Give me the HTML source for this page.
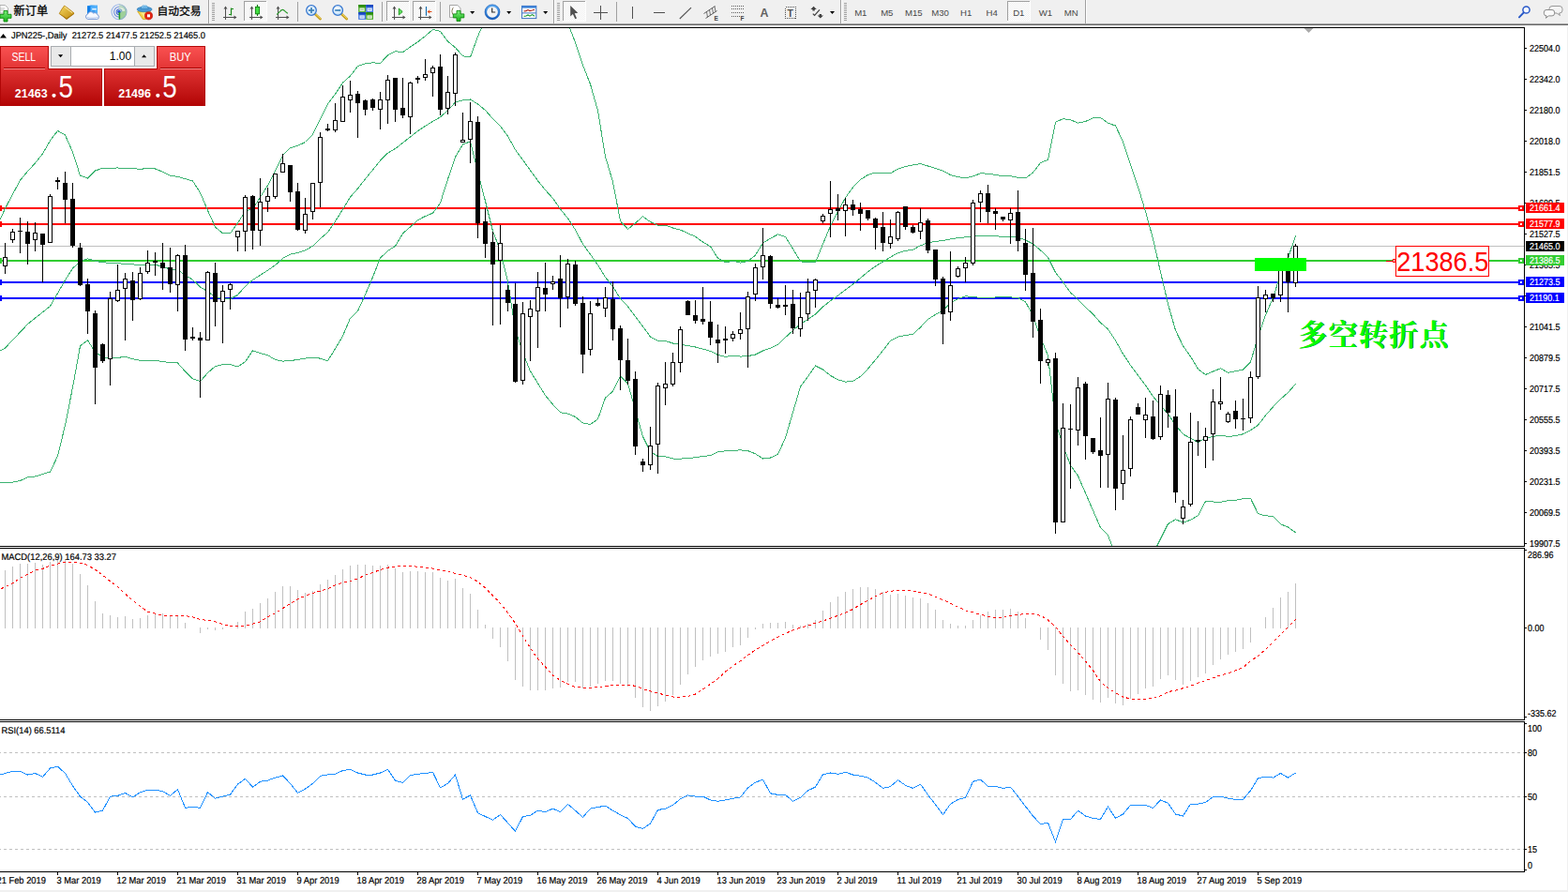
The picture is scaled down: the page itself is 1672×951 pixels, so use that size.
<!DOCTYPE html>
<html><head><meta charset="utf-8"><title>JPN225 Daily</title>
<style>
html,body{margin:0;padding:0;background:#fff;}
body{width:1672px;height:951px;overflow:hidden;position:relative;font-family:"Liberation Sans",sans-serif;}

</style></head><body>
<svg width="1672" height="951" viewBox="0 0 1672 951" style="position:absolute;left:0;top:0">
<defs><clipPath id="cm"><rect x="0" y="30" width="1625" height="552"/></clipPath></defs>
<g shape-rendering="crispEdges" fill="#000">
<rect x="0" y="29" width="1626" height="1"/>
<rect x="0" y="582" width="1626" height="1"/>
<rect x="1625" y="29" width="1" height="554"/>
<rect x="0" y="584" width="1626" height="1"/>
<rect x="0" y="767" width="1626" height="1"/>
<rect x="1625" y="584" width="1" height="184"/>
<rect x="0" y="769" width="1626" height="1"/>
<rect x="0" y="929" width="1626" height="1"/>
<rect x="1625" y="769" width="1" height="161"/>
</g>
<path d="M1390.5 30 L1400.5 30 L1395.5 35 Z" fill="#a9a9a9"/>
<g shape-rendering="crispEdges">
<rect x="0" y="262" width="1625" height="1" fill="#c0c0c0"/>
<rect x="0" y="221" width="1619" height="2" fill="#ff0000"/>
<rect x="0" y="219" width="2" height="6" fill="#ff0000"/>
<rect x="0" y="238" width="1619" height="2" fill="#ff0000"/>
<rect x="0" y="236" width="2" height="6" fill="#ff0000"/>
<rect x="0" y="277" width="1619" height="2" fill="#32cd32"/>
<rect x="0" y="275" width="2" height="6" fill="#32cd32"/>
<rect x="0" y="300" width="1619" height="2" fill="#0000ff"/>
<rect x="0" y="298" width="2" height="6" fill="#0000ff"/>
<rect x="0" y="317" width="1619" height="2" fill="#0000ff"/>
<rect x="0" y="315" width="2" height="6" fill="#0000ff"/>
</g>
<g clip-path="url(#cm)" shape-rendering="crispEdges">
<polyline points="0.0,234.3 5.5,222.3 13.5,207.0 21.5,192.3 29.5,182.7 37.5,173.9 45.5,164.0 53.5,149.9 61.5,139.4 69.5,144.0 77.5,162.2 85.5,187.2 93.5,190.0 101.5,182.0 109.5,179.3 117.5,179.1 125.5,179.0 133.5,179.4 141.5,179.8 149.5,180.2 157.5,179.7 165.5,180.0 173.5,183.2 181.5,187.2 189.5,188.4 197.5,190.7 205.5,192.9 213.5,205.5 221.5,224.3 229.5,242.1 237.5,248.7 245.5,248.7 253.5,238.0 261.5,225.0 269.5,222.9 277.5,210.1 285.5,197.8 293.5,181.8 301.5,165.8 309.5,157.6 317.5,155.4 325.5,151.5 333.5,143.3 341.5,126.7 349.5,110.7 357.5,100.2 365.5,88.2 373.5,81.0 381.5,70.5 389.5,67.7 397.5,66.8 405.5,67.4 413.5,58.9 421.5,54.7 429.5,55.7 437.5,50.0 445.5,44.7 453.5,38.4 461.5,31.5 469.5,33.4 477.5,44.0 485.5,50.7 493.5,59.7 501.5,61.0 509.5,38.8 517.5,20.6 525.5,6.4 533.5,1.8 541.5,-10.3 549.5,-32.4 557.5,-34.7 565.5,-32.4 573.5,-23.1 581.5,-16.5 589.5,-8.3 597.5,6.1 605.5,24.4 613.5,45.5 621.5,69.5 629.5,89.7 637.5,118.1 645.5,166.8 653.5,193.9 661.5,235.7 669.5,244.3 677.5,238.0 685.5,230.7 693.5,236.6 701.5,240.1 709.5,240.1 717.5,243.0 725.5,245.1 733.5,248.8 741.5,252.2 749.5,258.1 757.5,262.7 765.5,275.3 773.5,279.9 781.5,278.2 789.5,280.2 797.5,278.5 805.5,272.1 813.5,259.0 821.5,254.2 829.5,249.9 837.5,252.5 845.5,265.2 853.5,278.9 861.5,279.6 869.5,279.9 877.5,260.2 885.5,241.0 893.5,225.6 901.5,210.8 909.5,199.7 917.5,191.5 925.5,186.4 933.5,184.1 941.5,184.4 949.5,184.8 957.5,180.1 965.5,177.5 973.5,175.9 981.5,174.7 989.5,177.0 997.5,179.4 1005.5,182.1 1013.5,186.6 1021.5,188.7 1029.5,189.8 1037.5,187.8 1045.5,184.9 1053.5,185.1 1061.5,186.5 1069.5,187.7 1077.5,187.6 1085.5,189.4 1093.5,189.9 1101.5,184.0 1109.5,173.5 1117.5,170.4 1125.5,130.3 1133.5,126.6 1141.5,127.7 1149.5,131.1 1157.5,129.5 1165.5,125.7 1173.5,125.4 1181.5,131.3 1189.5,134.0 1197.5,151.2 1205.5,175.8 1213.5,199.1 1221.5,225.5 1229.5,254.6 1237.5,290.0 1245.5,324.2 1253.5,352.2 1261.5,368.7 1269.5,380.1 1277.5,393.4 1285.5,399.4 1293.5,396.0 1301.5,392.8 1309.5,397.2 1317.5,395.8 1325.5,394.1 1333.5,386.0 1341.5,358.8 1349.5,336.0 1357.5,317.4 1365.5,292.5 1373.5,275.0 1381.5,251.2" fill="none" stroke="#3cb371" stroke-width="1" />
<polyline points="0.0,374.1 5.5,371.0 13.5,362.5 21.5,354.1 29.5,345.6 37.5,339.1 45.5,332.8 53.5,326.4 61.5,312.7 69.5,298.6 77.5,286.2 85.5,278.3 93.5,275.8 101.5,278.2 109.5,279.8 117.5,280.3 125.5,280.8 133.5,281.3 141.5,281.9 149.5,282.4 157.5,282.1 165.5,282.3 173.5,284.2 181.5,287.1 189.5,287.7 197.5,293.4 205.5,298.3 213.5,306.0 221.5,310.9 229.5,316.3 237.5,318.7 245.5,318.7 253.5,314.4 261.5,305.3 269.5,298.4 277.5,293.3 285.5,288.3 293.5,282.7 301.5,275.4 309.5,271.1 317.5,269.4 325.5,266.8 333.5,262.3 341.5,254.4 349.5,247.7 357.5,236.0 365.5,223.2 373.5,210.1 381.5,201.1 389.5,190.8 397.5,181.1 405.5,171.2 413.5,163.2 421.5,158.5 429.5,152.3 437.5,146.0 445.5,139.7 453.5,134.4 461.5,129.3 469.5,124.9 477.5,117.6 485.5,109.1 493.5,106.8 501.5,106.0 509.5,111.0 517.5,117.5 525.5,126.5 533.5,134.4 541.5,145.1 549.5,159.6 557.5,170.5 565.5,181.7 573.5,192.7 581.5,202.6 589.5,211.4 597.5,222.9 605.5,232.8 613.5,245.0 621.5,260.2 629.5,271.1 637.5,282.5 645.5,295.5 653.5,305.6 661.5,318.3 669.5,326.7 677.5,337.5 685.5,348.2 693.5,359.0 701.5,363.4 709.5,363.4 717.5,366.0 725.5,367.1 733.5,368.6 741.5,370.0 749.5,372.2 757.5,374.3 765.5,378.5 773.5,380.4 781.5,379.3 789.5,380.1 797.5,379.6 805.5,378.0 813.5,374.0 821.5,371.1 829.5,367.2 837.5,359.7 845.5,352.4 853.5,345.5 861.5,340.5 869.5,335.0 877.5,327.1 885.5,320.7 893.5,315.2 901.5,309.0 909.5,303.0 917.5,296.4 925.5,289.8 933.5,283.9 941.5,279.0 949.5,274.1 957.5,269.6 965.5,267.4 973.5,266.2 981.5,261.8 989.5,258.8 997.5,257.4 1005.5,256.6 1013.5,254.9 1021.5,253.7 1029.5,252.8 1037.5,252.1 1045.5,251.2 1053.5,251.3 1061.5,251.8 1069.5,252.3 1077.5,252.2 1085.5,253.4 1093.5,255.9 1101.5,260.1 1109.5,266.8 1117.5,274.6 1125.5,290.4 1133.5,300.8 1141.5,311.9 1149.5,319.2 1157.5,327.6 1165.5,334.9 1173.5,344.1 1181.5,351.0 1189.5,363.0 1197.5,377.3 1205.5,389.4 1213.5,400.2 1221.5,410.9 1229.5,422.6 1237.5,432.2 1245.5,441.4 1253.5,453.0 1261.5,462.9 1269.5,467.2 1277.5,471.6 1285.5,466.9 1293.5,465.5 1301.5,464.1 1309.5,465.5 1317.5,464.6 1325.5,462.8 1333.5,458.6 1341.5,453.3 1349.5,442.9 1357.5,433.8 1365.5,425.6 1373.5,418.5 1381.5,409.5" fill="none" stroke="#3cb371" stroke-width="1" />
<polyline points="0.0,514.1 5.5,514.2 13.5,514.2 21.5,512.4 29.5,508.9 37.5,508.0 45.5,505.5 53.5,503.0 61.5,486.2 69.5,453.3 77.5,413.0 85.5,368.9 93.5,362.8 101.5,375.3 109.5,380.7 117.5,382.1 125.5,381.5 133.5,380.2 141.5,382.8 149.5,384.2 157.5,384.4 165.5,384.7 173.5,385.3 181.5,386.9 189.5,387.0 197.5,396.1 205.5,403.8 213.5,406.6 221.5,397.5 229.5,390.5 237.5,388.7 245.5,388.7 253.5,390.9 261.5,385.7 269.5,373.9 277.5,376.5 285.5,378.7 293.5,383.5 301.5,385.1 309.5,384.6 317.5,383.4 325.5,382.1 333.5,381.3 341.5,382.1 349.5,384.7 357.5,371.8 365.5,358.2 373.5,339.2 381.5,331.7 389.5,314.0 397.5,295.3 405.5,275.1 413.5,267.5 421.5,262.3 429.5,248.9 437.5,242.0 445.5,234.7 453.5,230.5 461.5,227.2 469.5,216.4 477.5,191.1 485.5,167.5 493.5,153.9 501.5,150.9 509.5,183.1 517.5,214.4 525.5,246.5 533.5,266.9 541.5,300.4 549.5,351.6 557.5,375.8 565.5,395.8 573.5,408.6 581.5,421.6 589.5,431.2 597.5,439.7 605.5,441.1 613.5,444.4 621.5,451.0 629.5,452.5 637.5,446.9 645.5,424.1 653.5,417.3 661.5,400.9 669.5,409.0 677.5,437.0 685.5,465.6 693.5,481.4 701.5,486.6 709.5,486.8 717.5,489.0 725.5,489.2 733.5,488.4 741.5,487.8 749.5,486.3 757.5,485.8 765.5,481.7 773.5,480.9 781.5,480.3 789.5,479.9 797.5,480.6 805.5,483.8 813.5,489.0 821.5,488.0 829.5,484.4 837.5,466.8 845.5,439.6 853.5,412.2 861.5,401.5 869.5,390.0 877.5,394.0 885.5,400.4 893.5,404.8 901.5,407.1 909.5,406.4 917.5,401.4 925.5,393.2 933.5,383.7 941.5,373.7 949.5,363.4 957.5,359.1 965.5,357.4 973.5,356.5 981.5,348.9 989.5,340.5 997.5,335.3 1005.5,331.0 1013.5,323.2 1021.5,318.6 1029.5,315.8 1037.5,316.4 1045.5,317.5 1053.5,317.4 1061.5,317.0 1069.5,316.9 1077.5,316.9 1085.5,317.5 1093.5,321.9 1101.5,336.2 1109.5,360.1 1117.5,378.9 1125.5,450.5 1133.5,475.0 1141.5,496.1 1149.5,507.3 1157.5,525.7 1165.5,544.1 1173.5,562.7 1181.5,570.7 1189.5,592.0 1197.5,603.4 1205.5,603.0 1213.5,601.2 1221.5,596.3 1229.5,590.6 1237.5,574.5 1245.5,558.6 1253.5,553.8 1261.5,557.1 1269.5,554.3 1277.5,549.7 1285.5,534.5 1293.5,535.0 1301.5,535.4 1309.5,533.8 1317.5,533.4 1325.5,531.6 1333.5,531.3 1341.5,547.7 1349.5,549.9 1357.5,550.2 1365.5,558.8 1373.5,562.0 1381.5,567.8" fill="none" stroke="#3cb371" stroke-width="1" />
</g>
<g shape-rendering="crispEdges">
<rect x="5" y="259" width="1" height="33" fill="#000"/>
<rect x="3" y="274" width="5" height="10" fill="#000"/>
<rect x="4" y="275" width="3" height="8" fill="#fff"/>
<rect x="13" y="244" width="1" height="15" fill="#000"/>
<rect x="11" y="247" width="5" height="9" fill="#000"/>
<rect x="12" y="248" width="3" height="7" fill="#fff"/>
<rect x="21" y="232" width="1" height="38" fill="#000"/>
<rect x="19" y="246" width="5" height="1" fill="#000"/>
<rect x="29" y="236" width="1" height="46" fill="#000"/>
<rect x="27" y="247" width="5" height="13" fill="#000"/>
<rect x="37" y="237" width="1" height="31" fill="#000"/>
<rect x="35" y="248" width="5" height="8" fill="#000"/>
<rect x="36" y="249" width="3" height="6" fill="#fff"/>
<rect x="45" y="249" width="1" height="52" fill="#000"/>
<rect x="43" y="249" width="5" height="12" fill="#000"/>
<rect x="53" y="207" width="1" height="52" fill="#000"/>
<rect x="51" y="209" width="5" height="50" fill="#000"/>
<rect x="52" y="210" width="3" height="48" fill="#fff"/>
<rect x="61" y="189" width="1" height="13" fill="#000"/>
<rect x="59" y="192" width="5" height="2" fill="#000"/>
<rect x="69" y="183" width="1" height="55" fill="#000"/>
<rect x="67" y="195" width="5" height="18" fill="#000"/>
<rect x="77" y="195" width="1" height="69" fill="#000"/>
<rect x="75" y="212" width="5" height="50" fill="#000"/>
<rect x="85" y="259" width="1" height="46" fill="#000"/>
<rect x="83" y="264" width="5" height="40" fill="#000"/>
<rect x="93" y="297" width="1" height="59" fill="#000"/>
<rect x="91" y="303" width="5" height="29" fill="#000"/>
<rect x="101" y="331" width="1" height="100" fill="#000"/>
<rect x="99" y="334" width="5" height="58" fill="#000"/>
<rect x="109" y="366" width="1" height="21" fill="#000"/>
<rect x="107" y="367" width="5" height="18" fill="#000"/>
<rect x="117" y="311" width="1" height="100" fill="#000"/>
<rect x="115" y="318" width="5" height="65" fill="#000"/>
<rect x="116" y="319" width="3" height="63" fill="#fff"/>
<rect x="125" y="282" width="1" height="40" fill="#000"/>
<rect x="123" y="309" width="5" height="12" fill="#000"/>
<rect x="124" y="310" width="3" height="10" fill="#fff"/>
<rect x="133" y="291" width="1" height="72" fill="#000"/>
<rect x="131" y="297" width="5" height="11" fill="#000"/>
<rect x="132" y="298" width="3" height="9" fill="#fff"/>
<rect x="141" y="290" width="1" height="52" fill="#000"/>
<rect x="139" y="299" width="5" height="21" fill="#000"/>
<rect x="149" y="285" width="1" height="35" fill="#000"/>
<rect x="147" y="291" width="5" height="28" fill="#000"/>
<rect x="148" y="292" width="3" height="26" fill="#fff"/>
<rect x="157" y="267" width="1" height="25" fill="#000"/>
<rect x="155" y="280" width="5" height="10" fill="#000"/>
<rect x="156" y="281" width="3" height="8" fill="#fff"/>
<rect x="165" y="269" width="1" height="25" fill="#000"/>
<rect x="163" y="278" width="5" height="2" fill="#000"/>
<rect x="173" y="259" width="1" height="50" fill="#000"/>
<rect x="171" y="280" width="5" height="6" fill="#000"/>
<rect x="181" y="264" width="1" height="48" fill="#000"/>
<rect x="179" y="285" width="5" height="18" fill="#000"/>
<rect x="189" y="271" width="1" height="61" fill="#000"/>
<rect x="187" y="272" width="5" height="32" fill="#000"/>
<rect x="188" y="273" width="3" height="30" fill="#fff"/>
<rect x="197" y="261" width="1" height="113" fill="#000"/>
<rect x="195" y="272" width="5" height="90" fill="#000"/>
<rect x="205" y="349" width="1" height="14" fill="#000"/>
<rect x="203" y="359" width="5" height="2" fill="#000"/>
<rect x="213" y="354" width="1" height="70" fill="#000"/>
<rect x="211" y="360" width="5" height="3" fill="#000"/>
<rect x="221" y="289" width="1" height="74" fill="#000"/>
<rect x="219" y="290" width="5" height="73" fill="#000"/>
<rect x="220" y="291" width="3" height="71" fill="#fff"/>
<rect x="229" y="280" width="1" height="68" fill="#000"/>
<rect x="227" y="291" width="5" height="31" fill="#000"/>
<rect x="237" y="304" width="1" height="62" fill="#000"/>
<rect x="235" y="310" width="5" height="12" fill="#000"/>
<rect x="236" y="311" width="3" height="10" fill="#fff"/>
<rect x="245" y="302" width="1" height="28" fill="#000"/>
<rect x="243" y="303" width="5" height="6" fill="#000"/>
<rect x="244" y="304" width="3" height="4" fill="#fff"/>
<rect x="253" y="246" width="1" height="22" fill="#000"/>
<rect x="251" y="246" width="5" height="7" fill="#000"/>
<rect x="252" y="247" width="3" height="5" fill="#fff"/>
<rect x="261" y="208" width="1" height="60" fill="#000"/>
<rect x="259" y="210" width="5" height="37" fill="#000"/>
<rect x="260" y="211" width="3" height="35" fill="#fff"/>
<rect x="269" y="208" width="1" height="58" fill="#000"/>
<rect x="267" y="209" width="5" height="37" fill="#000"/>
<rect x="277" y="190" width="1" height="72" fill="#000"/>
<rect x="275" y="215" width="5" height="31" fill="#000"/>
<rect x="276" y="216" width="3" height="29" fill="#fff"/>
<rect x="285" y="200" width="1" height="26" fill="#000"/>
<rect x="283" y="209" width="5" height="6" fill="#000"/>
<rect x="284" y="210" width="3" height="4" fill="#fff"/>
<rect x="293" y="185" width="1" height="27" fill="#000"/>
<rect x="291" y="185" width="5" height="25" fill="#000"/>
<rect x="292" y="186" width="3" height="23" fill="#fff"/>
<rect x="301" y="164" width="1" height="20" fill="#000"/>
<rect x="299" y="174" width="5" height="10" fill="#000"/>
<rect x="300" y="175" width="3" height="8" fill="#fff"/>
<rect x="309" y="176" width="1" height="39" fill="#000"/>
<rect x="307" y="176" width="5" height="29" fill="#000"/>
<rect x="317" y="195" width="1" height="51" fill="#000"/>
<rect x="315" y="204" width="5" height="41" fill="#000"/>
<rect x="325" y="211" width="1" height="38" fill="#000"/>
<rect x="323" y="228" width="5" height="18" fill="#000"/>
<rect x="324" y="229" width="3" height="16" fill="#fff"/>
<rect x="333" y="195" width="1" height="39" fill="#000"/>
<rect x="331" y="195" width="5" height="31" fill="#000"/>
<rect x="332" y="196" width="3" height="29" fill="#fff"/>
<rect x="341" y="141" width="1" height="80" fill="#000"/>
<rect x="339" y="146" width="5" height="49" fill="#000"/>
<rect x="340" y="147" width="3" height="47" fill="#fff"/>
<rect x="349" y="132" width="1" height="8" fill="#000"/>
<rect x="347" y="137" width="5" height="2" fill="#000"/>
<rect x="357" y="110" width="1" height="31" fill="#000"/>
<rect x="355" y="128" width="5" height="11" fill="#000"/>
<rect x="356" y="129" width="3" height="9" fill="#fff"/>
<rect x="365" y="91" width="1" height="39" fill="#000"/>
<rect x="363" y="103" width="5" height="27" fill="#000"/>
<rect x="364" y="104" width="3" height="25" fill="#fff"/>
<rect x="373" y="86" width="1" height="34" fill="#000"/>
<rect x="371" y="101" width="5" height="6" fill="#000"/>
<rect x="372" y="102" width="3" height="4" fill="#fff"/>
<rect x="381" y="97" width="1" height="50" fill="#000"/>
<rect x="379" y="100" width="5" height="10" fill="#000"/>
<rect x="389" y="106" width="1" height="17" fill="#000"/>
<rect x="387" y="107" width="5" height="10" fill="#000"/>
<rect x="397" y="105" width="1" height="13" fill="#000"/>
<rect x="395" y="106" width="5" height="9" fill="#000"/>
<rect x="405" y="98" width="1" height="40" fill="#000"/>
<rect x="403" y="106" width="5" height="11" fill="#000"/>
<rect x="404" y="107" width="3" height="9" fill="#fff"/>
<rect x="413" y="80" width="1" height="52" fill="#000"/>
<rect x="411" y="85" width="5" height="22" fill="#000"/>
<rect x="412" y="86" width="3" height="20" fill="#fff"/>
<rect x="421" y="83" width="1" height="47" fill="#000"/>
<rect x="419" y="83" width="5" height="34" fill="#000"/>
<rect x="429" y="83" width="1" height="43" fill="#000"/>
<rect x="427" y="115" width="5" height="8" fill="#000"/>
<rect x="437" y="87" width="1" height="56" fill="#000"/>
<rect x="435" y="88" width="5" height="37" fill="#000"/>
<rect x="436" y="89" width="3" height="35" fill="#fff"/>
<rect x="445" y="81" width="1" height="8" fill="#000"/>
<rect x="443" y="83" width="5" height="2" fill="#000"/>
<rect x="453" y="63" width="1" height="23" fill="#000"/>
<rect x="451" y="79" width="5" height="4" fill="#000"/>
<rect x="452" y="80" width="3" height="2" fill="#fff"/>
<rect x="461" y="70" width="1" height="33" fill="#000"/>
<rect x="459" y="72" width="5" height="6" fill="#000"/>
<rect x="460" y="73" width="3" height="4" fill="#fff"/>
<rect x="469" y="58" width="1" height="65" fill="#000"/>
<rect x="467" y="71" width="5" height="46" fill="#000"/>
<rect x="477" y="81" width="1" height="41" fill="#000"/>
<rect x="475" y="98" width="5" height="18" fill="#000"/>
<rect x="476" y="99" width="3" height="16" fill="#fff"/>
<rect x="485" y="56" width="1" height="57" fill="#000"/>
<rect x="483" y="58" width="5" height="42" fill="#000"/>
<rect x="484" y="59" width="3" height="40" fill="#fff"/>
<rect x="493" y="120" width="1" height="32" fill="#000"/>
<rect x="491" y="149" width="5" height="3" fill="#000"/>
<rect x="492" y="150" width="3" height="1" fill="#fff"/>
<rect x="501" y="109" width="1" height="65" fill="#000"/>
<rect x="499" y="129" width="5" height="20" fill="#000"/>
<rect x="500" y="130" width="3" height="18" fill="#fff"/>
<rect x="509" y="124" width="1" height="130" fill="#000"/>
<rect x="507" y="130" width="5" height="108" fill="#000"/>
<rect x="517" y="222" width="1" height="53" fill="#000"/>
<rect x="515" y="236" width="5" height="24" fill="#000"/>
<rect x="525" y="247" width="1" height="100" fill="#000"/>
<rect x="523" y="258" width="5" height="24" fill="#000"/>
<rect x="533" y="240" width="1" height="106" fill="#000"/>
<rect x="531" y="259" width="5" height="19" fill="#000"/>
<rect x="532" y="260" width="3" height="17" fill="#fff"/>
<rect x="541" y="304" width="1" height="28" fill="#000"/>
<rect x="539" y="309" width="5" height="14" fill="#000"/>
<rect x="549" y="302" width="1" height="106" fill="#000"/>
<rect x="547" y="324" width="5" height="83" fill="#000"/>
<rect x="557" y="322" width="1" height="88" fill="#000"/>
<rect x="555" y="334" width="5" height="72" fill="#000"/>
<rect x="556" y="335" width="3" height="70" fill="#fff"/>
<rect x="565" y="320" width="1" height="65" fill="#000"/>
<rect x="563" y="329" width="5" height="9" fill="#000"/>
<rect x="564" y="330" width="3" height="7" fill="#fff"/>
<rect x="573" y="290" width="1" height="81" fill="#000"/>
<rect x="571" y="306" width="5" height="26" fill="#000"/>
<rect x="572" y="307" width="3" height="24" fill="#fff"/>
<rect x="581" y="280" width="1" height="52" fill="#000"/>
<rect x="579" y="307" width="5" height="7" fill="#000"/>
<rect x="589" y="294" width="1" height="15" fill="#000"/>
<rect x="587" y="300" width="5" height="3" fill="#000"/>
<rect x="588" y="301" width="3" height="1" fill="#fff"/>
<rect x="597" y="272" width="1" height="77" fill="#000"/>
<rect x="595" y="297" width="5" height="21" fill="#000"/>
<rect x="605" y="276" width="1" height="53" fill="#000"/>
<rect x="603" y="281" width="5" height="36" fill="#000"/>
<rect x="604" y="282" width="3" height="34" fill="#fff"/>
<rect x="613" y="278" width="1" height="48" fill="#000"/>
<rect x="611" y="282" width="5" height="42" fill="#000"/>
<rect x="621" y="316" width="1" height="82" fill="#000"/>
<rect x="619" y="323" width="5" height="55" fill="#000"/>
<rect x="629" y="321" width="1" height="58" fill="#000"/>
<rect x="627" y="334" width="5" height="39" fill="#000"/>
<rect x="628" y="335" width="3" height="37" fill="#fff"/>
<rect x="637" y="318" width="1" height="9" fill="#000"/>
<rect x="635" y="323" width="5" height="3" fill="#000"/>
<rect x="645" y="306" width="1" height="32" fill="#000"/>
<rect x="643" y="317" width="5" height="12" fill="#000"/>
<rect x="644" y="318" width="3" height="10" fill="#fff"/>
<rect x="653" y="300" width="1" height="63" fill="#000"/>
<rect x="651" y="319" width="5" height="32" fill="#000"/>
<rect x="661" y="347" width="1" height="69" fill="#000"/>
<rect x="659" y="350" width="5" height="34" fill="#000"/>
<rect x="669" y="361" width="1" height="49" fill="#000"/>
<rect x="667" y="384" width="5" height="22" fill="#000"/>
<rect x="677" y="396" width="1" height="89" fill="#000"/>
<rect x="675" y="404" width="5" height="72" fill="#000"/>
<rect x="685" y="489" width="1" height="14" fill="#000"/>
<rect x="683" y="492" width="5" height="4" fill="#000"/>
<rect x="693" y="455" width="1" height="46" fill="#000"/>
<rect x="691" y="475" width="5" height="21" fill="#000"/>
<rect x="692" y="476" width="3" height="19" fill="#fff"/>
<rect x="701" y="408" width="1" height="97" fill="#000"/>
<rect x="699" y="411" width="5" height="63" fill="#000"/>
<rect x="700" y="412" width="3" height="61" fill="#fff"/>
<rect x="709" y="386" width="1" height="46" fill="#000"/>
<rect x="707" y="409" width="5" height="5" fill="#000"/>
<rect x="708" y="410" width="3" height="3" fill="#fff"/>
<rect x="717" y="376" width="1" height="36" fill="#000"/>
<rect x="715" y="386" width="5" height="24" fill="#000"/>
<rect x="716" y="387" width="3" height="22" fill="#fff"/>
<rect x="725" y="348" width="1" height="49" fill="#000"/>
<rect x="723" y="351" width="5" height="36" fill="#000"/>
<rect x="724" y="352" width="3" height="34" fill="#fff"/>
<rect x="733" y="320" width="1" height="16" fill="#000"/>
<rect x="731" y="321" width="5" height="15" fill="#000"/>
<rect x="741" y="320" width="1" height="25" fill="#000"/>
<rect x="739" y="336" width="5" height="6" fill="#000"/>
<rect x="749" y="306" width="1" height="40" fill="#000"/>
<rect x="747" y="340" width="5" height="3" fill="#000"/>
<rect x="757" y="321" width="1" height="47" fill="#000"/>
<rect x="755" y="343" width="5" height="17" fill="#000"/>
<rect x="765" y="346" width="1" height="41" fill="#000"/>
<rect x="763" y="362" width="5" height="4" fill="#000"/>
<rect x="773" y="348" width="1" height="29" fill="#000"/>
<rect x="771" y="361" width="5" height="2" fill="#000"/>
<rect x="781" y="353" width="1" height="11" fill="#000"/>
<rect x="779" y="356" width="5" height="5" fill="#000"/>
<rect x="780" y="357" width="3" height="3" fill="#fff"/>
<rect x="789" y="333" width="1" height="29" fill="#000"/>
<rect x="787" y="351" width="5" height="5" fill="#000"/>
<rect x="788" y="352" width="3" height="3" fill="#fff"/>
<rect x="797" y="311" width="1" height="81" fill="#000"/>
<rect x="795" y="316" width="5" height="35" fill="#000"/>
<rect x="796" y="317" width="3" height="33" fill="#fff"/>
<rect x="805" y="281" width="1" height="40" fill="#000"/>
<rect x="803" y="285" width="5" height="29" fill="#000"/>
<rect x="804" y="286" width="3" height="27" fill="#fff"/>
<rect x="813" y="243" width="1" height="55" fill="#000"/>
<rect x="811" y="272" width="5" height="13" fill="#000"/>
<rect x="812" y="273" width="3" height="11" fill="#fff"/>
<rect x="821" y="272" width="1" height="57" fill="#000"/>
<rect x="819" y="273" width="5" height="51" fill="#000"/>
<rect x="829" y="318" width="1" height="11" fill="#000"/>
<rect x="827" y="325" width="5" height="3" fill="#000"/>
<rect x="837" y="304" width="1" height="32" fill="#000"/>
<rect x="835" y="325" width="5" height="2" fill="#000"/>
<rect x="845" y="309" width="1" height="47" fill="#000"/>
<rect x="843" y="324" width="5" height="26" fill="#000"/>
<rect x="853" y="312" width="1" height="47" fill="#000"/>
<rect x="851" y="338" width="5" height="13" fill="#000"/>
<rect x="852" y="339" width="3" height="11" fill="#fff"/>
<rect x="861" y="297" width="1" height="45" fill="#000"/>
<rect x="859" y="311" width="5" height="24" fill="#000"/>
<rect x="860" y="312" width="3" height="22" fill="#fff"/>
<rect x="869" y="297" width="1" height="31" fill="#000"/>
<rect x="867" y="298" width="5" height="12" fill="#000"/>
<rect x="868" y="299" width="3" height="10" fill="#fff"/>
<rect x="877" y="228" width="1" height="10" fill="#000"/>
<rect x="875" y="230" width="5" height="6" fill="#000"/>
<rect x="876" y="231" width="3" height="4" fill="#fff"/>
<rect x="885" y="193" width="1" height="60" fill="#000"/>
<rect x="883" y="223" width="5" height="5" fill="#000"/>
<rect x="884" y="224" width="3" height="3" fill="#fff"/>
<rect x="893" y="207" width="1" height="28" fill="#000"/>
<rect x="891" y="222" width="5" height="3" fill="#000"/>
<rect x="901" y="211" width="1" height="41" fill="#000"/>
<rect x="899" y="218" width="5" height="7" fill="#000"/>
<rect x="900" y="219" width="3" height="5" fill="#fff"/>
<rect x="909" y="213" width="1" height="17" fill="#000"/>
<rect x="907" y="218" width="5" height="6" fill="#000"/>
<rect x="917" y="216" width="1" height="30" fill="#000"/>
<rect x="915" y="223" width="5" height="5" fill="#000"/>
<rect x="925" y="224" width="1" height="11" fill="#000"/>
<rect x="923" y="224" width="5" height="9" fill="#000"/>
<rect x="933" y="232" width="1" height="34" fill="#000"/>
<rect x="931" y="233" width="5" height="10" fill="#000"/>
<rect x="941" y="226" width="1" height="42" fill="#000"/>
<rect x="939" y="242" width="5" height="17" fill="#000"/>
<rect x="949" y="234" width="1" height="31" fill="#000"/>
<rect x="947" y="252" width="5" height="8" fill="#000"/>
<rect x="948" y="253" width="3" height="6" fill="#fff"/>
<rect x="957" y="225" width="1" height="32" fill="#000"/>
<rect x="955" y="226" width="5" height="29" fill="#000"/>
<rect x="956" y="227" width="3" height="27" fill="#fff"/>
<rect x="965" y="220" width="1" height="25" fill="#000"/>
<rect x="963" y="220" width="5" height="22" fill="#000"/>
<rect x="973" y="240" width="1" height="9" fill="#000"/>
<rect x="971" y="242" width="5" height="6" fill="#000"/>
<rect x="981" y="222" width="1" height="33" fill="#000"/>
<rect x="979" y="237" width="5" height="10" fill="#000"/>
<rect x="980" y="238" width="3" height="8" fill="#fff"/>
<rect x="989" y="233" width="1" height="37" fill="#000"/>
<rect x="987" y="235" width="5" height="32" fill="#000"/>
<rect x="997" y="266" width="1" height="39" fill="#000"/>
<rect x="995" y="266" width="5" height="32" fill="#000"/>
<rect x="1005" y="295" width="1" height="72" fill="#000"/>
<rect x="1003" y="297" width="5" height="38" fill="#000"/>
<rect x="1013" y="268" width="1" height="74" fill="#000"/>
<rect x="1011" y="304" width="5" height="29" fill="#000"/>
<rect x="1012" y="305" width="3" height="27" fill="#fff"/>
<rect x="1021" y="284" width="1" height="12" fill="#000"/>
<rect x="1019" y="286" width="5" height="9" fill="#000"/>
<rect x="1020" y="287" width="3" height="7" fill="#fff"/>
<rect x="1029" y="274" width="1" height="27" fill="#000"/>
<rect x="1027" y="280" width="5" height="6" fill="#000"/>
<rect x="1028" y="281" width="3" height="4" fill="#fff"/>
<rect x="1037" y="213" width="1" height="70" fill="#000"/>
<rect x="1035" y="216" width="5" height="65" fill="#000"/>
<rect x="1036" y="217" width="3" height="63" fill="#fff"/>
<rect x="1045" y="203" width="1" height="34" fill="#000"/>
<rect x="1043" y="206" width="5" height="10" fill="#000"/>
<rect x="1044" y="207" width="3" height="8" fill="#fff"/>
<rect x="1053" y="197" width="1" height="41" fill="#000"/>
<rect x="1051" y="206" width="5" height="20" fill="#000"/>
<rect x="1061" y="222" width="1" height="23" fill="#000"/>
<rect x="1059" y="225" width="5" height="3" fill="#000"/>
<rect x="1069" y="231" width="1" height="5" fill="#000"/>
<rect x="1067" y="231" width="5" height="3" fill="#000"/>
<rect x="1077" y="222" width="1" height="38" fill="#000"/>
<rect x="1075" y="227" width="5" height="8" fill="#000"/>
<rect x="1076" y="228" width="3" height="6" fill="#fff"/>
<rect x="1085" y="203" width="1" height="65" fill="#000"/>
<rect x="1083" y="226" width="5" height="31" fill="#000"/>
<rect x="1093" y="244" width="1" height="66" fill="#000"/>
<rect x="1091" y="259" width="5" height="34" fill="#000"/>
<rect x="1101" y="243" width="1" height="117" fill="#000"/>
<rect x="1099" y="291" width="5" height="52" fill="#000"/>
<rect x="1109" y="329" width="1" height="80" fill="#000"/>
<rect x="1107" y="341" width="5" height="44" fill="#000"/>
<rect x="1117" y="382" width="1" height="8" fill="#000"/>
<rect x="1115" y="383" width="5" height="4" fill="#000"/>
<rect x="1116" y="384" width="3" height="2" fill="#fff"/>
<rect x="1125" y="376" width="1" height="193" fill="#000"/>
<rect x="1123" y="382" width="5" height="175" fill="#000"/>
<rect x="1133" y="430" width="1" height="127" fill="#000"/>
<rect x="1131" y="456" width="5" height="101" fill="#000"/>
<rect x="1132" y="457" width="3" height="99" fill="#fff"/>
<rect x="1141" y="431" width="1" height="90" fill="#000"/>
<rect x="1139" y="457" width="5" height="1" fill="#000"/>
<rect x="1149" y="402" width="1" height="73" fill="#000"/>
<rect x="1147" y="413" width="5" height="46" fill="#000"/>
<rect x="1148" y="414" width="3" height="44" fill="#fff"/>
<rect x="1157" y="407" width="1" height="83" fill="#000"/>
<rect x="1155" y="409" width="5" height="56" fill="#000"/>
<rect x="1165" y="467" width="1" height="17" fill="#000"/>
<rect x="1163" y="467" width="5" height="15" fill="#000"/>
<rect x="1173" y="445" width="1" height="75" fill="#000"/>
<rect x="1171" y="480" width="5" height="6" fill="#000"/>
<rect x="1181" y="408" width="1" height="112" fill="#000"/>
<rect x="1179" y="425" width="5" height="60" fill="#000"/>
<rect x="1180" y="426" width="3" height="58" fill="#fff"/>
<rect x="1189" y="424" width="1" height="120" fill="#000"/>
<rect x="1187" y="426" width="5" height="95" fill="#000"/>
<rect x="1197" y="464" width="1" height="69" fill="#000"/>
<rect x="1195" y="501" width="5" height="15" fill="#000"/>
<rect x="1196" y="502" width="3" height="13" fill="#fff"/>
<rect x="1205" y="444" width="1" height="64" fill="#000"/>
<rect x="1203" y="447" width="5" height="53" fill="#000"/>
<rect x="1204" y="448" width="3" height="51" fill="#fff"/>
<rect x="1213" y="430" width="1" height="12" fill="#000"/>
<rect x="1211" y="434" width="5" height="8" fill="#000"/>
<rect x="1221" y="424" width="1" height="43" fill="#000"/>
<rect x="1219" y="442" width="5" height="6" fill="#000"/>
<rect x="1220" y="443" width="3" height="4" fill="#fff"/>
<rect x="1229" y="427" width="1" height="42" fill="#000"/>
<rect x="1227" y="444" width="5" height="24" fill="#000"/>
<rect x="1237" y="411" width="1" height="58" fill="#000"/>
<rect x="1235" y="420" width="5" height="46" fill="#000"/>
<rect x="1236" y="421" width="3" height="44" fill="#fff"/>
<rect x="1245" y="416" width="1" height="40" fill="#000"/>
<rect x="1243" y="421" width="5" height="19" fill="#000"/>
<rect x="1253" y="415" width="1" height="121" fill="#000"/>
<rect x="1251" y="444" width="5" height="81" fill="#000"/>
<rect x="1261" y="533" width="1" height="26" fill="#000"/>
<rect x="1259" y="540" width="5" height="13" fill="#000"/>
<rect x="1260" y="541" width="3" height="11" fill="#fff"/>
<rect x="1269" y="440" width="1" height="100" fill="#000"/>
<rect x="1267" y="471" width="5" height="67" fill="#000"/>
<rect x="1268" y="472" width="3" height="65" fill="#fff"/>
<rect x="1277" y="449" width="1" height="37" fill="#000"/>
<rect x="1275" y="469" width="5" height="2" fill="#000"/>
<rect x="1285" y="456" width="1" height="43" fill="#000"/>
<rect x="1283" y="465" width="5" height="5" fill="#000"/>
<rect x="1284" y="466" width="3" height="3" fill="#fff"/>
<rect x="1293" y="415" width="1" height="76" fill="#000"/>
<rect x="1291" y="428" width="5" height="35" fill="#000"/>
<rect x="1292" y="429" width="3" height="33" fill="#fff"/>
<rect x="1301" y="402" width="1" height="35" fill="#000"/>
<rect x="1299" y="428" width="5" height="3" fill="#000"/>
<rect x="1300" y="429" width="3" height="1" fill="#fff"/>
<rect x="1309" y="439" width="1" height="12" fill="#000"/>
<rect x="1307" y="441" width="5" height="9" fill="#000"/>
<rect x="1308" y="442" width="3" height="7" fill="#fff"/>
<rect x="1317" y="427" width="1" height="30" fill="#000"/>
<rect x="1315" y="438" width="5" height="9" fill="#000"/>
<rect x="1325" y="425" width="1" height="34" fill="#000"/>
<rect x="1323" y="446" width="5" height="1" fill="#000"/>
<rect x="1333" y="396" width="1" height="55" fill="#000"/>
<rect x="1331" y="402" width="5" height="44" fill="#000"/>
<rect x="1332" y="403" width="3" height="42" fill="#fff"/>
<rect x="1341" y="305" width="1" height="99" fill="#000"/>
<rect x="1339" y="317" width="5" height="85" fill="#000"/>
<rect x="1340" y="318" width="3" height="83" fill="#fff"/>
<rect x="1349" y="309" width="1" height="24" fill="#000"/>
<rect x="1347" y="314" width="5" height="5" fill="#000"/>
<rect x="1348" y="315" width="3" height="3" fill="#fff"/>
<rect x="1357" y="313" width="1" height="9" fill="#000"/>
<rect x="1355" y="313" width="5" height="5" fill="#000"/>
<rect x="1365" y="281" width="1" height="41" fill="#000"/>
<rect x="1363" y="284" width="5" height="31" fill="#000"/>
<rect x="1364" y="285" width="3" height="29" fill="#fff"/>
<rect x="1373" y="270" width="1" height="63" fill="#000"/>
<rect x="1371" y="282" width="5" height="19" fill="#000"/>
<rect x="1381" y="260" width="1" height="46" fill="#000"/>
<rect x="1379" y="262" width="5" height="40" fill="#000"/>
<rect x="1380" y="263" width="3" height="38" fill="#fff"/>
</g>
<g shape-rendering="crispEdges">
<rect x="1338" y="275" width="55" height="14" fill="#00ff00"/>
<rect x="1478" y="278" width="8" height="1" fill="#ff0000"/>
<rect x="1485.5" y="276.5" width="2" height="3" fill="#fff" stroke="#ff0000" stroke-width="1"/>
<rect x="1488.5" y="262.5" width="99" height="32" fill="#fff" stroke="#ff0000" stroke-width="1"/>
</g>
<text x="1489.2" y="288.5" font-family="Liberation Sans, sans-serif" font-size="30" fill="#ff0000" textLength="98.2" lengthAdjust="spacingAndGlyphs">21386.5</text>
<g shape-rendering="crispEdges">
<rect x="1619" y="219" width="6" height="6" fill="#ff0000"/>
<rect x="1621" y="221" width="2" height="2" fill="#fff"/>
<rect x="1619" y="236" width="6" height="6" fill="#ff0000"/>
<rect x="1621" y="238" width="2" height="2" fill="#fff"/>
<rect x="1619" y="275" width="6" height="6" fill="#32cd32"/>
<rect x="1621" y="277" width="2" height="2" fill="#fff"/>
<rect x="1619" y="298" width="6" height="6" fill="#0000ff"/>
<rect x="1621" y="300" width="2" height="2" fill="#fff"/>
<rect x="1619" y="315" width="6" height="6" fill="#0000ff"/>
<rect x="1621" y="317" width="2" height="2" fill="#fff"/>
</g>
<rect x="1626" y="51" width="2" height="1" fill="#000" shape-rendering="crispEdges"/><text transform="translate(1631 55) scale(0.8929 1)" font-family="Liberation Sans, sans-serif" font-size="10.08" fill="#000" stroke="#000" stroke-width="0.2" text-rendering="geometricPrecision" xml:space="preserve">22504.0</text>
<rect x="1626" y="84" width="2" height="1" fill="#000" shape-rendering="crispEdges"/><text transform="translate(1631 88) scale(0.8929 1)" font-family="Liberation Sans, sans-serif" font-size="10.08" fill="#000" stroke="#000" stroke-width="0.2" text-rendering="geometricPrecision" xml:space="preserve">22342.0</text>
<rect x="1626" y="117" width="2" height="1" fill="#000" shape-rendering="crispEdges"/><text transform="translate(1631 121) scale(0.8929 1)" font-family="Liberation Sans, sans-serif" font-size="10.08" fill="#000" stroke="#000" stroke-width="0.2" text-rendering="geometricPrecision" xml:space="preserve">22180.0</text>
<rect x="1626" y="150" width="2" height="1" fill="#000" shape-rendering="crispEdges"/><text transform="translate(1631 154) scale(0.8929 1)" font-family="Liberation Sans, sans-serif" font-size="10.08" fill="#000" stroke="#000" stroke-width="0.2" text-rendering="geometricPrecision" xml:space="preserve">22018.0</text>
<rect x="1626" y="183" width="2" height="1" fill="#000" shape-rendering="crispEdges"/><text transform="translate(1631 187) scale(0.8929 1)" font-family="Liberation Sans, sans-serif" font-size="10.08" fill="#000" stroke="#000" stroke-width="0.2" text-rendering="geometricPrecision" xml:space="preserve">21851.5</text>
<rect x="1626" y="216" width="2" height="1" fill="#000" shape-rendering="crispEdges"/><text transform="translate(1631 220) scale(0.8929 1)" font-family="Liberation Sans, sans-serif" font-size="10.08" fill="#000" stroke="#000" stroke-width="0.2" text-rendering="geometricPrecision" xml:space="preserve">21689.5</text>
<rect x="1626" y="249" width="2" height="1" fill="#000" shape-rendering="crispEdges"/><text transform="translate(1631 253) scale(0.8929 1)" font-family="Liberation Sans, sans-serif" font-size="10.08" fill="#000" stroke="#000" stroke-width="0.2" text-rendering="geometricPrecision" xml:space="preserve">21527.5</text>
<rect x="1626" y="282" width="2" height="1" fill="#000" shape-rendering="crispEdges"/><text transform="translate(1631 286) scale(0.8929 1)" font-family="Liberation Sans, sans-serif" font-size="10.08" fill="#000" stroke="#000" stroke-width="0.2" text-rendering="geometricPrecision" xml:space="preserve">21365.5</text>
<rect x="1626" y="315" width="2" height="1" fill="#000" shape-rendering="crispEdges"/><text transform="translate(1631 319) scale(0.8929 1)" font-family="Liberation Sans, sans-serif" font-size="10.08" fill="#000" stroke="#000" stroke-width="0.2" text-rendering="geometricPrecision" xml:space="preserve"></text>
<rect x="1626" y="348" width="2" height="1" fill="#000" shape-rendering="crispEdges"/><text transform="translate(1631 352) scale(0.8929 1)" font-family="Liberation Sans, sans-serif" font-size="10.08" fill="#000" stroke="#000" stroke-width="0.2" text-rendering="geometricPrecision" xml:space="preserve">21041.5</text>
<rect x="1626" y="381" width="2" height="1" fill="#000" shape-rendering="crispEdges"/><text transform="translate(1631 385) scale(0.8929 1)" font-family="Liberation Sans, sans-serif" font-size="10.08" fill="#000" stroke="#000" stroke-width="0.2" text-rendering="geometricPrecision" xml:space="preserve">20879.5</text>
<rect x="1626" y="414" width="2" height="1" fill="#000" shape-rendering="crispEdges"/><text transform="translate(1631 418) scale(0.8929 1)" font-family="Liberation Sans, sans-serif" font-size="10.08" fill="#000" stroke="#000" stroke-width="0.2" text-rendering="geometricPrecision" xml:space="preserve">20717.5</text>
<rect x="1626" y="447" width="2" height="1" fill="#000" shape-rendering="crispEdges"/><text transform="translate(1631 451) scale(0.8929 1)" font-family="Liberation Sans, sans-serif" font-size="10.08" fill="#000" stroke="#000" stroke-width="0.2" text-rendering="geometricPrecision" xml:space="preserve">20555.5</text>
<rect x="1626" y="480" width="2" height="1" fill="#000" shape-rendering="crispEdges"/><text transform="translate(1631 484) scale(0.8929 1)" font-family="Liberation Sans, sans-serif" font-size="10.08" fill="#000" stroke="#000" stroke-width="0.2" text-rendering="geometricPrecision" xml:space="preserve">20393.5</text>
<rect x="1626" y="513" width="2" height="1" fill="#000" shape-rendering="crispEdges"/><text transform="translate(1631 517) scale(0.8929 1)" font-family="Liberation Sans, sans-serif" font-size="10.08" fill="#000" stroke="#000" stroke-width="0.2" text-rendering="geometricPrecision" xml:space="preserve">20231.5</text>
<rect x="1626" y="546" width="2" height="1" fill="#000" shape-rendering="crispEdges"/><text transform="translate(1631 550) scale(0.8929 1)" font-family="Liberation Sans, sans-serif" font-size="10.08" fill="#000" stroke="#000" stroke-width="0.2" text-rendering="geometricPrecision" xml:space="preserve">20069.5</text>
<rect x="1626" y="579" width="2" height="1" fill="#000" shape-rendering="crispEdges"/><text transform="translate(1631 583) scale(0.8929 1)" font-family="Liberation Sans, sans-serif" font-size="10.08" fill="#000" stroke="#000" stroke-width="0.2" text-rendering="geometricPrecision" xml:space="preserve">19907.5</text>
<g shape-rendering="crispEdges">
<rect x="1627" y="216" width="41" height="11" fill="#ff0000"/>
<rect x="1627" y="233" width="41" height="11" fill="#ff0000"/>
<rect x="1627" y="272" width="41" height="11" fill="#32cd32"/>
<rect x="1627" y="295" width="41" height="11" fill="#0000ff"/>
<rect x="1627" y="312" width="41" height="11" fill="#0000ff"/>
<rect x="1627" y="257" width="41" height="11" fill="#000000"/>
</g>
<text transform="translate(1631 225) scale(0.8929 1)" font-family="Liberation Sans, sans-serif" font-size="10.08" fill="#fff" stroke="#fff" stroke-width="0.2" text-rendering="geometricPrecision" xml:space="preserve">21661.4</text>
<text transform="translate(1631 242) scale(0.8929 1)" font-family="Liberation Sans, sans-serif" font-size="10.08" fill="#fff" stroke="#fff" stroke-width="0.2" text-rendering="geometricPrecision" xml:space="preserve">21577.9</text>
<text transform="translate(1631 281) scale(0.8929 1)" font-family="Liberation Sans, sans-serif" font-size="10.08" fill="#fff" stroke="#fff" stroke-width="0.2" text-rendering="geometricPrecision" xml:space="preserve">21386.5</text>
<text transform="translate(1631 304) scale(0.8929 1)" font-family="Liberation Sans, sans-serif" font-size="10.08" fill="#fff" stroke="#fff" stroke-width="0.2" text-rendering="geometricPrecision" xml:space="preserve">21273.5</text>
<text transform="translate(1631 321) scale(0.8929 1)" font-family="Liberation Sans, sans-serif" font-size="10.08" fill="#fff" stroke="#fff" stroke-width="0.2" text-rendering="geometricPrecision" xml:space="preserve">21190.1</text>
<text transform="translate(1631 266) scale(0.8929 1)" font-family="Liberation Sans, sans-serif" font-size="10.08" fill="#fff" stroke="#fff" stroke-width="0.2" text-rendering="geometricPrecision" xml:space="preserve">21465.0</text>
<g shape-rendering="crispEdges" fill="#c0c0c0">
<rect x="5" y="608" width="1" height="62"/>
<rect x="13" y="604" width="1" height="66"/>
<rect x="21" y="601" width="1" height="69"/>
<rect x="29" y="601" width="1" height="69"/>
<rect x="37" y="600" width="1" height="70"/>
<rect x="45" y="602" width="1" height="68"/>
<rect x="53" y="599" width="1" height="71"/>
<rect x="61" y="596" width="1" height="74"/>
<rect x="69" y="596" width="1" height="74"/>
<rect x="77" y="601" width="1" height="69"/>
<rect x="85" y="612" width="1" height="58"/>
<rect x="93" y="624" width="1" height="46"/>
<rect x="101" y="641" width="1" height="29"/>
<rect x="109" y="654" width="1" height="16"/>
<rect x="117" y="656" width="1" height="14"/>
<rect x="125" y="658" width="1" height="12"/>
<rect x="133" y="657" width="1" height="13"/>
<rect x="141" y="660" width="1" height="10"/>
<rect x="149" y="659" width="1" height="11"/>
<rect x="157" y="656" width="1" height="14"/>
<rect x="165" y="654" width="1" height="16"/>
<rect x="173" y="654" width="1" height="16"/>
<rect x="181" y="656" width="1" height="14"/>
<rect x="189" y="656" width="1" height="14"/>
<rect x="197" y="664" width="1" height="6"/>
<rect x="213" y="669" width="1" height="6"/>
<rect x="221" y="669" width="1" height="2"/>
<rect x="229" y="669" width="1" height="3"/>
<rect x="237" y="669" width="1" height="2"/>
<rect x="253" y="663" width="1" height="7"/>
<rect x="261" y="652" width="1" height="18"/>
<rect x="269" y="649" width="1" height="21"/>
<rect x="277" y="643" width="1" height="27"/>
<rect x="285" y="638" width="1" height="32"/>
<rect x="293" y="631" width="1" height="39"/>
<rect x="301" y="625" width="1" height="45"/>
<rect x="309" y="625" width="1" height="45"/>
<rect x="317" y="629" width="1" height="41"/>
<rect x="325" y="632" width="1" height="38"/>
<rect x="333" y="630" width="1" height="40"/>
<rect x="341" y="623" width="1" height="47"/>
<rect x="349" y="618" width="1" height="52"/>
<rect x="357" y="613" width="1" height="57"/>
<rect x="365" y="607" width="1" height="63"/>
<rect x="373" y="603" width="1" height="67"/>
<rect x="381" y="602" width="1" height="68"/>
<rect x="389" y="602" width="1" height="68"/>
<rect x="397" y="603" width="1" height="67"/>
<rect x="405" y="603" width="1" height="67"/>
<rect x="413" y="602" width="1" height="68"/>
<rect x="421" y="606" width="1" height="64"/>
<rect x="429" y="610" width="1" height="60"/>
<rect x="437" y="609" width="1" height="61"/>
<rect x="445" y="609" width="1" height="61"/>
<rect x="453" y="610" width="1" height="60"/>
<rect x="461" y="610" width="1" height="60"/>
<rect x="469" y="616" width="1" height="54"/>
<rect x="477" y="619" width="1" height="51"/>
<rect x="485" y="617" width="1" height="53"/>
<rect x="493" y="627" width="1" height="43"/>
<rect x="501" y="633" width="1" height="37"/>
<rect x="509" y="650" width="1" height="20"/>
<rect x="517" y="666" width="1" height="4"/>
<rect x="525" y="669" width="1" height="12"/>
<rect x="533" y="669" width="1" height="21"/>
<rect x="541" y="669" width="1" height="36"/>
<rect x="549" y="669" width="1" height="56"/>
<rect x="557" y="669" width="1" height="63"/>
<rect x="565" y="669" width="1" height="67"/>
<rect x="573" y="669" width="1" height="67"/>
<rect x="581" y="669" width="1" height="67"/>
<rect x="589" y="669" width="1" height="65"/>
<rect x="597" y="669" width="1" height="64"/>
<rect x="605" y="669" width="1" height="58"/>
<rect x="613" y="669" width="1" height="58"/>
<rect x="621" y="669" width="1" height="65"/>
<rect x="629" y="669" width="1" height="63"/>
<rect x="637" y="669" width="1" height="60"/>
<rect x="645" y="669" width="1" height="57"/>
<rect x="653" y="669" width="1" height="57"/>
<rect x="661" y="669" width="1" height="60"/>
<rect x="669" y="669" width="1" height="63"/>
<rect x="677" y="669" width="1" height="75"/>
<rect x="685" y="669" width="1" height="85"/>
<rect x="693" y="669" width="1" height="89"/>
<rect x="701" y="669" width="1" height="84"/>
<rect x="709" y="669" width="1" height="79"/>
<rect x="717" y="669" width="1" height="72"/>
<rect x="725" y="669" width="1" height="61"/>
<rect x="733" y="669" width="1" height="50"/>
<rect x="741" y="669" width="1" height="42"/>
<rect x="749" y="669" width="1" height="35"/>
<rect x="757" y="669" width="1" height="31"/>
<rect x="765" y="669" width="1" height="28"/>
<rect x="773" y="669" width="1" height="26"/>
<rect x="781" y="669" width="1" height="21"/>
<rect x="789" y="669" width="1" height="19"/>
<rect x="797" y="669" width="1" height="11"/>
<rect x="805" y="669" width="1" height="2"/>
<rect x="813" y="665" width="1" height="5"/>
<rect x="821" y="664" width="1" height="6"/>
<rect x="829" y="664" width="1" height="6"/>
<rect x="837" y="663" width="1" height="7"/>
<rect x="845" y="666" width="1" height="4"/>
<rect x="853" y="667" width="1" height="3"/>
<rect x="861" y="665" width="1" height="5"/>
<rect x="869" y="661" width="1" height="9"/>
<rect x="877" y="651" width="1" height="19"/>
<rect x="885" y="642" width="1" height="28"/>
<rect x="893" y="636" width="1" height="34"/>
<rect x="901" y="631" width="1" height="39"/>
<rect x="909" y="628" width="1" height="42"/>
<rect x="917" y="626" width="1" height="44"/>
<rect x="925" y="626" width="1" height="44"/>
<rect x="933" y="628" width="1" height="42"/>
<rect x="941" y="631" width="1" height="39"/>
<rect x="949" y="634" width="1" height="36"/>
<rect x="957" y="633" width="1" height="37"/>
<rect x="965" y="635" width="1" height="35"/>
<rect x="973" y="637" width="1" height="33"/>
<rect x="981" y="638" width="1" height="32"/>
<rect x="989" y="643" width="1" height="27"/>
<rect x="997" y="650" width="1" height="20"/>
<rect x="1005" y="661" width="1" height="9"/>
<rect x="1013" y="665" width="1" height="5"/>
<rect x="1021" y="667" width="1" height="3"/>
<rect x="1029" y="667" width="1" height="3"/>
<rect x="1037" y="661" width="1" height="9"/>
<rect x="1045" y="656" width="1" height="14"/>
<rect x="1053" y="652" width="1" height="18"/>
<rect x="1061" y="650" width="1" height="20"/>
<rect x="1069" y="650" width="1" height="20"/>
<rect x="1077" y="649" width="1" height="21"/>
<rect x="1085" y="652" width="1" height="18"/>
<rect x="1093" y="659" width="1" height="11"/>
<rect x="1109" y="669" width="1" height="13"/>
<rect x="1117" y="669" width="1" height="24"/>
<rect x="1125" y="669" width="1" height="51"/>
<rect x="1133" y="669" width="1" height="60"/>
<rect x="1141" y="669" width="1" height="68"/>
<rect x="1149" y="669" width="1" height="67"/>
<rect x="1157" y="669" width="1" height="72"/>
<rect x="1165" y="669" width="1" height="77"/>
<rect x="1173" y="669" width="1" height="80"/>
<rect x="1181" y="669" width="1" height="75"/>
<rect x="1189" y="669" width="1" height="81"/>
<rect x="1197" y="669" width="1" height="83"/>
<rect x="1205" y="669" width="1" height="76"/>
<rect x="1213" y="669" width="1" height="71"/>
<rect x="1221" y="669" width="1" height="65"/>
<rect x="1229" y="669" width="1" height="63"/>
<rect x="1237" y="669" width="1" height="55"/>
<rect x="1245" y="669" width="1" height="51"/>
<rect x="1253" y="669" width="1" height="56"/>
<rect x="1261" y="669" width="1" height="61"/>
<rect x="1269" y="669" width="1" height="57"/>
<rect x="1277" y="669" width="1" height="53"/>
<rect x="1285" y="669" width="1" height="49"/>
<rect x="1293" y="669" width="1" height="40"/>
<rect x="1301" y="669" width="1" height="34"/>
<rect x="1309" y="669" width="1" height="29"/>
<rect x="1317" y="669" width="1" height="26"/>
<rect x="1325" y="669" width="1" height="23"/>
<rect x="1333" y="669" width="1" height="16"/>
<rect x="1349" y="658" width="1" height="12"/>
<rect x="1357" y="648" width="1" height="22"/>
<rect x="1365" y="637" width="1" height="33"/>
<rect x="1373" y="631" width="1" height="39"/>
<rect x="1381" y="622" width="1" height="48"/>
</g>
<polyline points="1.0,627.7 13.5,621.9 21.5,616.2 29.5,612.4 37.5,608.1 45.5,606.4 53.5,603.1 61.5,601.1 69.5,599.6 77.5,599.3 85.5,600.1 93.5,602.6 101.5,607.4 109.5,613.1 117.5,619.9 125.5,625.7 133.5,633.2 141.5,640.0 149.5,646.3 157.5,652.1 165.5,654.1 173.5,656.1 181.5,656.3 189.5,656.3 197.5,656.6 205.5,657.9 213.5,660.4 221.5,661.4 229.5,662.9 237.5,665.4 245.5,667.1 253.5,667.6 261.5,667.6 269.5,665.1 277.5,662.9 285.5,657.9 293.5,653.8 301.5,648.8 309.5,643.3 317.5,638.8 325.5,635.2 333.5,632.5 341.5,630.0 349.5,627.7 357.5,623.9 365.5,621.2 373.5,619.4 381.5,616.9 389.5,613.1 397.5,610.6 405.5,607.4 413.5,605.1 421.5,604.4 429.5,603.1 437.5,603.1 445.5,604.4 453.5,605.1 461.5,606.1 469.5,607.6 477.5,608.9 485.5,611.4 493.5,613.1 501.5,615.7 509.5,620.2 517.5,627.0 525.5,635.0 533.5,643.3 541.5,653.3 549.5,664.6 557.5,678.0 565.5,691.0 573.5,702.3 581.5,711.1 589.5,719.9 597.5,725.4 605.5,729.4 613.5,732.5 621.5,733.2 629.5,733.2 637.5,732.5 645.5,731.7 653.5,730.4 661.5,730.4 669.5,730.4 677.5,731.2 685.5,734.5 693.5,737.0 701.5,738.7 709.5,741.3 717.5,743.0 725.5,743.3 733.5,742.5 741.5,740.0 749.5,735.0 757.5,729.2 765.5,723.7 773.5,716.1 781.5,709.9 789.5,704.8 797.5,698.5 805.5,693.0 813.5,688.5 821.5,683.5 829.5,679.2 837.5,675.4 845.5,671.7 853.5,669.2 861.5,667.1 869.5,664.1 877.5,662.1 885.5,659.1 893.5,656.3 901.5,653.3 909.5,649.6 917.5,644.5 925.5,640.3 933.5,635.8 941.5,632.0 949.5,630.2 957.5,629.5 965.5,629.5 973.5,630.2 981.5,631.5 989.5,632.7 997.5,636.3 1005.5,639.5 1013.5,643.3 1021.5,647.1 1029.5,650.8 1037.5,652.8 1045.5,655.3 1053.5,657.1 1061.5,658.4 1069.5,658.4 1077.5,656.6 1085.5,655.3 1093.5,654.6 1101.5,654.6 1109.5,656.3 1117.5,660.9 1125.5,668.4 1133.5,678.5 1141.5,687.2 1149.5,696.0 1157.5,704.8 1165.5,714.9 1173.5,726.7 1181.5,733.7 1189.5,738.7 1197.5,743.0 1205.5,745.0 1213.5,745.5 1221.5,745.6 1229.5,744.0 1237.5,741.8 1245.5,737.5 1253.5,736.2 1261.5,733.7 1269.5,731.2 1277.5,728.2 1285.5,725.4 1293.5,722.9 1301.5,719.9 1309.5,717.9 1317.5,714.9 1325.5,711.6 1333.5,704.8 1341.5,699.3 1349.5,692.3 1357.5,684.7 1365.5,676.4 1373.5,668.4 1381.5,660.5" fill="none" stroke="#ff0000" stroke-width="1" stroke-dasharray="3 3" shape-rendering="crispEdges"/>
<text transform="translate(1629 595.0) scale(0.8929 1)" font-family="Liberation Sans, sans-serif" font-size="10.08" fill="#000" stroke="#000" stroke-width="0.2" text-rendering="geometricPrecision" xml:space="preserve">286.96</text>
<text transform="translate(1629 673.0) scale(0.8929 1)" font-family="Liberation Sans, sans-serif" font-size="10.08" fill="#000" stroke="#000" stroke-width="0.2" text-rendering="geometricPrecision" xml:space="preserve">0.00</text>
<text transform="translate(1629 763.5) scale(0.8929 1)" font-family="Liberation Sans, sans-serif" font-size="10.08" fill="#000" stroke="#000" stroke-width="0.2" text-rendering="geometricPrecision" xml:space="preserve">-335.62</text>
<g shape-rendering="crispEdges" fill="#000">
<rect x="1626" y="586" width="2" height="1"/>
<rect x="1626" y="669" width="2" height="1"/>
<rect x="1626" y="764" width="2" height="1"/>
</g>
<g shape-rendering="crispEdges">
<line x1="0" y1="802.5" x2="1625" y2="802.5" stroke="#c0c0c0" stroke-width="1" stroke-dasharray="3 3" stroke-dashoffset="2"/>
<line x1="0" y1="849.5" x2="1625" y2="849.5" stroke="#c0c0c0" stroke-width="1" stroke-dasharray="3 3" stroke-dashoffset="2"/>
<line x1="0" y1="905.5" x2="1625" y2="905.5" stroke="#c0c0c0" stroke-width="1" stroke-dasharray="3 3" stroke-dashoffset="2"/>
</g>
<polyline points="0.0,826.0 13.5,822.3 21.5,822.3 29.5,826.0 37.5,824.5 45.5,828.3 53.5,819.0 61.5,817.2 69.5,824.5 77.5,837.8 85.5,849.1 93.5,855.4 101.5,866.2 109.5,864.2 117.5,849.1 125.5,848.4 133.5,845.4 141.5,849.9 149.5,844.6 157.5,842.4 165.5,842.1 173.5,843.6 181.5,848.4 189.5,841.6 197.5,861.2 205.5,860.5 213.5,861.2 221.5,844.6 229.5,851.2 237.5,849.1 245.5,847.1 253.5,836.1 261.5,830.3 269.5,839.1 277.5,833.3 285.5,832.1 293.5,829.1 301.5,827.0 309.5,835.3 317.5,845.4 325.5,841.1 333.5,835.3 341.5,827.3 349.5,826.0 357.5,825.3 365.5,821.5 373.5,820.3 381.5,824.0 389.5,826.0 397.5,826.0 405.5,824.0 413.5,820.3 421.5,832.1 429.5,834.6 437.5,826.5 445.5,825.3 453.5,824.5 461.5,823.3 469.5,839.9 477.5,835.3 485.5,826.0 493.5,852.2 501.5,847.9 509.5,866.7 517.5,870.5 525.5,874.3 533.5,868.5 541.5,877.3 549.5,886.3 557.5,870.5 565.5,869.2 573.5,864.2 581.5,865.5 589.5,862.2 597.5,865.5 605.5,857.4 613.5,864.2 621.5,871.3 629.5,862.2 637.5,860.5 645.5,859.2 653.5,864.2 661.5,868.7 669.5,872.5 677.5,881.1 685.5,883.6 693.5,878.0 701.5,863.5 709.5,862.2 717.5,858.4 725.5,851.7 733.5,847.9 741.5,849.1 749.5,849.1 757.5,852.9 765.5,854.2 773.5,852.9 781.5,851.2 789.5,849.9 797.5,839.9 805.5,834.1 813.5,831.1 821.5,845.8 829.5,847.4 837.5,847.4 845.5,854.2 853.5,850.4 861.5,842.9 869.5,839.1 877.5,825.8 885.5,824.0 893.5,825.3 901.5,823.3 909.5,826.0 917.5,827.3 925.5,829.1 933.5,834.1 941.5,840.4 949.5,838.6 957.5,831.6 965.5,837.3 973.5,840.4 981.5,836.1 989.5,847.4 997.5,857.9 1005.5,868.5 1013.5,857.2 1021.5,852.4 1029.5,850.4 1037.5,833.3 1045.5,831.1 1053.5,838.3 1061.5,838.3 1069.5,840.4 1077.5,839.1 1085.5,849.1 1093.5,859.7 1101.5,870.0 1109.5,878.5 1117.5,877.3 1125.5,897.4 1133.5,873.5 1141.5,873.5 1149.5,864.2 1157.5,870.0 1165.5,872.5 1173.5,873.5 1181.5,860.0 1189.5,872.3 1197.5,868.0 1205.5,858.4 1213.5,858.4 1221.5,858.4 1229.5,861.5 1237.5,852.9 1245.5,856.2 1253.5,868.0 1261.5,870.0 1269.5,857.2 1277.5,857.2 1285.5,855.4 1293.5,849.7 1301.5,849.1 1309.5,851.2 1317.5,852.4 1325.5,852.4 1333.5,842.9 1341.5,829.6 1349.5,828.3 1357.5,829.1 1365.5,824.5 1373.5,829.1 1381.5,824.0" fill="none" stroke="#1e90ff" stroke-width="1" shape-rendering="crispEdges"/>
<text transform="translate(1629 780.0) scale(0.8929 1)" font-family="Liberation Sans, sans-serif" font-size="10.08" fill="#000" stroke="#000" stroke-width="0.2" text-rendering="geometricPrecision" xml:space="preserve">100</text>
<text transform="translate(1629 806.0) scale(0.8929 1)" font-family="Liberation Sans, sans-serif" font-size="10.08" fill="#000" stroke="#000" stroke-width="0.2" text-rendering="geometricPrecision" xml:space="preserve">80</text>
<text transform="translate(1629 853.0) scale(0.8929 1)" font-family="Liberation Sans, sans-serif" font-size="10.08" fill="#000" stroke="#000" stroke-width="0.2" text-rendering="geometricPrecision" xml:space="preserve">50</text>
<text transform="translate(1629 909.0) scale(0.8929 1)" font-family="Liberation Sans, sans-serif" font-size="10.08" fill="#000" stroke="#000" stroke-width="0.2" text-rendering="geometricPrecision" xml:space="preserve">15</text>
<text transform="translate(1629 926.0) scale(0.8929 1)" font-family="Liberation Sans, sans-serif" font-size="10.08" fill="#000" stroke="#000" stroke-width="0.2" text-rendering="geometricPrecision" xml:space="preserve">0</text>
<g shape-rendering="crispEdges" fill="#000">
<rect x="1626" y="771" width="2" height="1"/>
<rect x="1626" y="802" width="2" height="1"/>
<rect x="1626" y="849" width="2" height="1"/>
<rect x="1626" y="905" width="2" height="1"/>
<rect x="1626" y="927" width="2" height="1"/>
</g>
<g shape-rendering="crispEdges" fill="#000">
<rect x="61" y="930" width="1" height="3"/>
<rect x="125" y="930" width="1" height="3"/>
<rect x="189" y="930" width="1" height="3"/>
<rect x="253" y="930" width="1" height="3"/>
<rect x="317" y="930" width="1" height="3"/>
<rect x="381" y="930" width="1" height="3"/>
<rect x="445" y="930" width="1" height="3"/>
<rect x="509" y="930" width="1" height="3"/>
<rect x="573" y="930" width="1" height="3"/>
<rect x="637" y="930" width="1" height="3"/>
<rect x="701" y="930" width="1" height="3"/>
<rect x="765" y="930" width="1" height="3"/>
<rect x="829" y="930" width="1" height="3"/>
<rect x="893" y="930" width="1" height="3"/>
<rect x="957" y="930" width="1" height="3"/>
<rect x="1021" y="930" width="1" height="3"/>
<rect x="1085" y="930" width="1" height="3"/>
<rect x="1149" y="930" width="1" height="3"/>
<rect x="1213" y="930" width="1" height="3"/>
<rect x="1277" y="930" width="1" height="3"/>
<rect x="1341" y="930" width="1" height="3"/>
</g>
<text transform="translate(-3.5 942) scale(0.9174 1)" font-family="Liberation Sans, sans-serif" font-size="10.19" fill="#000" stroke="#000" stroke-width="0.2" text-rendering="geometricPrecision" xml:space="preserve">21 Feb 2019</text>
<text transform="translate(60.5 942) scale(0.9174 1)" font-family="Liberation Sans, sans-serif" font-size="10.19" fill="#000" stroke="#000" stroke-width="0.2" text-rendering="geometricPrecision" xml:space="preserve">3 Mar 2019</text>
<text transform="translate(124.5 942) scale(0.9174 1)" font-family="Liberation Sans, sans-serif" font-size="10.19" fill="#000" stroke="#000" stroke-width="0.2" text-rendering="geometricPrecision" xml:space="preserve">12 Mar 2019</text>
<text transform="translate(188.5 942) scale(0.9174 1)" font-family="Liberation Sans, sans-serif" font-size="10.19" fill="#000" stroke="#000" stroke-width="0.2" text-rendering="geometricPrecision" xml:space="preserve">21 Mar 2019</text>
<text transform="translate(252.5 942) scale(0.9174 1)" font-family="Liberation Sans, sans-serif" font-size="10.19" fill="#000" stroke="#000" stroke-width="0.2" text-rendering="geometricPrecision" xml:space="preserve">31 Mar 2019</text>
<text transform="translate(316.5 942) scale(0.9174 1)" font-family="Liberation Sans, sans-serif" font-size="10.19" fill="#000" stroke="#000" stroke-width="0.2" text-rendering="geometricPrecision" xml:space="preserve">9 Apr 2019</text>
<text transform="translate(380.5 942) scale(0.9174 1)" font-family="Liberation Sans, sans-serif" font-size="10.19" fill="#000" stroke="#000" stroke-width="0.2" text-rendering="geometricPrecision" xml:space="preserve">18 Apr 2019</text>
<text transform="translate(444.5 942) scale(0.9174 1)" font-family="Liberation Sans, sans-serif" font-size="10.19" fill="#000" stroke="#000" stroke-width="0.2" text-rendering="geometricPrecision" xml:space="preserve">28 Apr 2019</text>
<text transform="translate(508.5 942) scale(0.9174 1)" font-family="Liberation Sans, sans-serif" font-size="10.19" fill="#000" stroke="#000" stroke-width="0.2" text-rendering="geometricPrecision" xml:space="preserve">7 May 2019</text>
<text transform="translate(572.5 942) scale(0.9174 1)" font-family="Liberation Sans, sans-serif" font-size="10.19" fill="#000" stroke="#000" stroke-width="0.2" text-rendering="geometricPrecision" xml:space="preserve">16 May 2019</text>
<text transform="translate(636.5 942) scale(0.9174 1)" font-family="Liberation Sans, sans-serif" font-size="10.19" fill="#000" stroke="#000" stroke-width="0.2" text-rendering="geometricPrecision" xml:space="preserve">26 May 2019</text>
<text transform="translate(700.5 942) scale(0.9174 1)" font-family="Liberation Sans, sans-serif" font-size="10.19" fill="#000" stroke="#000" stroke-width="0.2" text-rendering="geometricPrecision" xml:space="preserve">4 Jun 2019</text>
<text transform="translate(764.5 942) scale(0.9174 1)" font-family="Liberation Sans, sans-serif" font-size="10.19" fill="#000" stroke="#000" stroke-width="0.2" text-rendering="geometricPrecision" xml:space="preserve">13 Jun 2019</text>
<text transform="translate(828.5 942) scale(0.9174 1)" font-family="Liberation Sans, sans-serif" font-size="10.19" fill="#000" stroke="#000" stroke-width="0.2" text-rendering="geometricPrecision" xml:space="preserve">23 Jun 2019</text>
<text transform="translate(892.5 942) scale(0.9174 1)" font-family="Liberation Sans, sans-serif" font-size="10.19" fill="#000" stroke="#000" stroke-width="0.2" text-rendering="geometricPrecision" xml:space="preserve">2 Jul 2019</text>
<text transform="translate(956.5 942) scale(0.9174 1)" font-family="Liberation Sans, sans-serif" font-size="10.19" fill="#000" stroke="#000" stroke-width="0.2" text-rendering="geometricPrecision" xml:space="preserve">11 Jul 2019</text>
<text transform="translate(1020.5 942) scale(0.9174 1)" font-family="Liberation Sans, sans-serif" font-size="10.19" fill="#000" stroke="#000" stroke-width="0.2" text-rendering="geometricPrecision" xml:space="preserve">21 Jul 2019</text>
<text transform="translate(1084.5 942) scale(0.9174 1)" font-family="Liberation Sans, sans-serif" font-size="10.19" fill="#000" stroke="#000" stroke-width="0.2" text-rendering="geometricPrecision" xml:space="preserve">30 Jul 2019</text>
<text transform="translate(1148.5 942) scale(0.9174 1)" font-family="Liberation Sans, sans-serif" font-size="10.19" fill="#000" stroke="#000" stroke-width="0.2" text-rendering="geometricPrecision" xml:space="preserve">8 Aug 2019</text>
<text transform="translate(1212.5 942) scale(0.9174 1)" font-family="Liberation Sans, sans-serif" font-size="10.19" fill="#000" stroke="#000" stroke-width="0.2" text-rendering="geometricPrecision" xml:space="preserve">18 Aug 2019</text>
<text transform="translate(1276.5 942) scale(0.9174 1)" font-family="Liberation Sans, sans-serif" font-size="10.19" fill="#000" stroke="#000" stroke-width="0.2" text-rendering="geometricPrecision" xml:space="preserve">27 Aug 2019</text>
<text transform="translate(1340.5 942) scale(0.9174 1)" font-family="Liberation Sans, sans-serif" font-size="10.19" fill="#000" stroke="#000" stroke-width="0.2" text-rendering="geometricPrecision" xml:space="preserve">5 Sep 2019</text>
<path d="M0 40.5 L7 40.5 L3.5 36 Z" fill="#000"/>
<text transform="translate(12 40.8) scale(0.9174 1)" font-family="Liberation Sans, sans-serif" font-size="9.81" fill="#000" stroke="#000" stroke-width="0.2" textLength="225.63" lengthAdjust="spacingAndGlyphs" text-rendering="geometricPrecision" xml:space="preserve">JPN225-,Daily  21272.5 21477.5 21252.5 21465.0</text>
<text transform="translate(1.5 596.9) scale(0.9174 1)" font-family="Liberation Sans, sans-serif" font-size="9.81" fill="#000" stroke="#000" stroke-width="0.2" textLength="133.53" lengthAdjust="spacingAndGlyphs" text-rendering="geometricPrecision" xml:space="preserve">MACD(12,26,9) 164.73 33.27</text>
<text transform="translate(1.5 781.9) scale(0.9174 1)" font-family="Liberation Sans, sans-serif" font-size="9.81" fill="#000" stroke="#000" stroke-width="0.2" textLength="74.12" lengthAdjust="spacingAndGlyphs" text-rendering="geometricPrecision" xml:space="preserve">RSI(14) 66.5114</text>
<defs><linearGradient id="rTop" x1="0" y1="0" x2="0" y2="1"><stop offset="0" stop-color="#fa5252"/><stop offset="1" stop-color="#e23434"/></linearGradient><linearGradient id="rBot" x1="0" y1="0" x2="0" y2="1"><stop offset="0" stop-color="#e03232"/><stop offset="0.5" stop-color="#c81c1c"/><stop offset="1" stop-color="#b20404"/></linearGradient></defs>
<g shape-rendering="crispEdges">
<rect x="0" y="49" width="219" height="64" fill="#ffffff"/>
<rect x="0" y="73" width="109" height="40" fill="url(#rBot)"/>
<rect x="111" y="73" width="108" height="40" fill="url(#rBot)"/>
<rect x="52" y="73" width="57" height="1" fill="#b40808"/><rect x="111" y="73" width="56" height="1" fill="#b40808"/>
<rect x="0" y="73" width="1" height="40" fill="#b00606"/><rect x="108" y="73" width="1" height="40" fill="#b00606"/>
<rect x="111" y="73" width="1" height="40" fill="#b00606"/><rect x="218" y="73" width="1" height="40" fill="#b00606"/>
<rect x="0" y="49" width="52" height="25" fill="url(#rTop)"/>
<rect x="167" y="49" width="52" height="25" fill="url(#rTop)"/>
<rect x="0" y="49" width="52" height="1" fill="#b40808"/><rect x="0" y="49" width="1" height="25" fill="#b40808"/><rect x="51" y="49" width="1" height="25" fill="#b40808"/>
<rect x="167" y="49" width="52" height="1" fill="#b40808"/><rect x="167" y="49" width="1" height="25" fill="#b40808"/><rect x="218" y="49" width="1" height="25" fill="#b40808"/>
<rect x="4" y="72" width="44" height="1" fill="#a80404"/><rect x="4" y="73" width="44" height="1" fill="#f48a8a"/>
<rect x="171" y="72" width="44" height="1" fill="#a80404"/><rect x="171" y="73" width="44" height="1" fill="#f48a8a"/>
<rect x="54" y="49" width="111" height="22" fill="#a8acb0"/>
<rect x="55" y="50" width="109" height="20" fill="#ffffff"/>
<rect x="55" y="50" width="20" height="20" fill="#e9e9e9"/><rect x="75" y="50" width="1" height="20" fill="#a8acb0"/>
<rect x="144" y="50" width="20" height="20" fill="#e9e9e9"/><rect x="143" y="50" width="1" height="20" fill="#a8acb0"/>
</g>
<path d="M62 58.2 H67.2 L64.6 61.2 Z M151 61.2 H156.2 L153.6 58.2 Z" fill="#000"/>
<text x="25.3" y="64.6" text-anchor="middle" font-family="Liberation Sans, sans-serif" font-size="12.2" fill="#fff" textLength="25.6" lengthAdjust="spacingAndGlyphs">SELL</text>
<text x="192.3" y="64.6" text-anchor="middle" font-family="Liberation Sans, sans-serif" font-size="12.2" fill="#fff" textLength="23" lengthAdjust="spacingAndGlyphs">BUY</text>
<text x="140.2" y="63.9" text-anchor="end" font-family="Liberation Sans, sans-serif" font-size="12" fill="#000">1.00</text>
<text x="15.8" y="103.6" font-family="Liberation Sans, sans-serif" font-size="12.3" font-weight="bold" fill="#fff" textLength="34.8" lengthAdjust="spacingAndGlyphs">21463</text>
<text x="126.2" y="103.6" font-family="Liberation Sans, sans-serif" font-size="12.3" font-weight="bold" fill="#fff" textLength="34.8" lengthAdjust="spacingAndGlyphs">21496</text>
<circle cx="57.5" cy="101.8" r="2.1" fill="#fff"/><circle cx="168.3" cy="101.8" r="2.1" fill="#fff"/>
<text x="62.6" y="103.8" font-family="Liberation Sans, sans-serif" font-size="33.4" fill="#fff" textLength="15.4" lengthAdjust="spacingAndGlyphs">5</text>
<text x="173.2" y="103.8" font-family="Liberation Sans, sans-serif" font-size="33.4" fill="#fff" textLength="15.4" lengthAdjust="spacingAndGlyphs">5</text>
<text x="1384.9" y="368.2" font-family="'Liberation Serif', 'Noto Serif CJK SC', serif" font-size="31" font-weight="bold" letter-spacing="1.3" fill="#0a5a0a">多空转折点</text>
<text x="1384.2" y="367.7" font-family="'Liberation Serif', 'Noto Serif CJK SC', serif" font-size="31" font-weight="bold" letter-spacing="1.3" fill="#00ff00">多空转折点</text>
<rect x="1671" y="27" width="1" height="924" fill="#f0f0f0" shape-rendering="crispEdges"/>
<rect x="0" y="949" width="1672" height="2" fill="#f0f0f0" shape-rendering="crispEdges"/>
</svg>
<svg width="1672" height="29" viewBox="0 0 1672 29" style="position:absolute;left:0;top:0">
<defs><linearGradient id="gGreen" x1="0" y1="0" x2="0" y2="1"><stop offset="0" stop-color="#7df07d"/><stop offset="1" stop-color="#18b018"/></linearGradient><linearGradient id="gGold" x1="0" y1="0" x2="1" y2="1"><stop offset="0" stop-color="#f6d860"/><stop offset="1" stop-color="#c08a10"/></linearGradient><linearGradient id="gBlue" x1="0" y1="0" x2="0" y2="1"><stop offset="0" stop-color="#5aa8f0"/><stop offset="1" stop-color="#1860c0"/></linearGradient><radialGradient id="gLens" cx="0.4" cy="0.35" r="0.7"><stop offset="0" stop-color="#ffffff"/><stop offset="1" stop-color="#b8dcf8"/></radialGradient><pattern id="chk" width="2" height="2" patternUnits="userSpaceOnUse"><rect width="2" height="2" fill="#ffffff"/><rect width="1" height="1" fill="#f0f0f0"/><rect x="1" y="1" width="1" height="1" fill="#f0f0f0"/></pattern></defs>
<g shape-rendering="crispEdges">
<rect x="0" y="0" width="1672" height="25" fill="#f0f0f0"/>
<rect x="0" y="25" width="1672" height="1" fill="#a0a0a0"/>
<rect x="0" y="26" width="1672" height="1" fill="#696969"/>
<rect x="0" y="27" width="1672" height="2" fill="#ffffff"/>
<rect x="222" y="0" width="1" height="25" fill="#a0a0a0"/><rect x="223" y="0" width="1" height="25" fill="#ffffff"/>
<rect x="590" y="0" width="1" height="25" fill="#a0a0a0"/><rect x="591" y="0" width="1" height="25" fill="#ffffff"/>
<rect x="896" y="0" width="1" height="25" fill="#a0a0a0"/><rect x="897" y="0" width="1" height="25" fill="#ffffff"/>
<rect x="1157" y="0" width="1" height="25" fill="#a0a0a0"/><rect x="1158" y="0" width="1" height="25" fill="#ffffff"/>
<rect x="317" y="2" width="1" height="21" fill="#a0a0a0"/>
<rect x="407" y="2" width="1" height="21" fill="#a0a0a0"/>
<rect x="469" y="2" width="1" height="21" fill="#a0a0a0"/>
<rect x="657" y="2" width="1" height="21" fill="#a0a0a0"/>
<rect x="226" y="3" width="3" height="1" fill="#a0a0a0"/>
<rect x="226" y="5" width="3" height="1" fill="#a0a0a0"/>
<rect x="226" y="7" width="3" height="1" fill="#a0a0a0"/>
<rect x="226" y="9" width="3" height="1" fill="#a0a0a0"/>
<rect x="226" y="11" width="3" height="1" fill="#a0a0a0"/>
<rect x="226" y="13" width="3" height="1" fill="#a0a0a0"/>
<rect x="226" y="15" width="3" height="1" fill="#a0a0a0"/>
<rect x="226" y="17" width="3" height="1" fill="#a0a0a0"/>
<rect x="226" y="19" width="3" height="1" fill="#a0a0a0"/>
<rect x="226" y="21" width="3" height="1" fill="#a0a0a0"/>
<rect x="594" y="3" width="3" height="1" fill="#a0a0a0"/>
<rect x="594" y="5" width="3" height="1" fill="#a0a0a0"/>
<rect x="594" y="7" width="3" height="1" fill="#a0a0a0"/>
<rect x="594" y="9" width="3" height="1" fill="#a0a0a0"/>
<rect x="594" y="11" width="3" height="1" fill="#a0a0a0"/>
<rect x="594" y="13" width="3" height="1" fill="#a0a0a0"/>
<rect x="594" y="15" width="3" height="1" fill="#a0a0a0"/>
<rect x="594" y="17" width="3" height="1" fill="#a0a0a0"/>
<rect x="594" y="19" width="3" height="1" fill="#a0a0a0"/>
<rect x="594" y="21" width="3" height="1" fill="#a0a0a0"/>
<rect x="900" y="3" width="3" height="1" fill="#a0a0a0"/>
<rect x="900" y="5" width="3" height="1" fill="#a0a0a0"/>
<rect x="900" y="7" width="3" height="1" fill="#a0a0a0"/>
<rect x="900" y="9" width="3" height="1" fill="#a0a0a0"/>
<rect x="900" y="11" width="3" height="1" fill="#a0a0a0"/>
<rect x="900" y="13" width="3" height="1" fill="#a0a0a0"/>
<rect x="900" y="15" width="3" height="1" fill="#a0a0a0"/>
<rect x="900" y="17" width="3" height="1" fill="#a0a0a0"/>
<rect x="900" y="19" width="3" height="1" fill="#a0a0a0"/>
<rect x="900" y="21" width="3" height="1" fill="#a0a0a0"/>
<rect x="260" y="1" width="25" height="22" fill="url(#chk)"/><rect x="260" y="1" width="25" height="1" fill="#a0a0a0"/><rect x="260" y="1" width="1" height="22" fill="#a0a0a0"/><rect x="260" y="22" width="25" height="1" fill="#ffffff"/><rect x="284" y="1" width="1" height="22" fill="#ffffff"/>
<rect x="412" y="1" width="25" height="22" fill="url(#chk)"/><rect x="412" y="1" width="25" height="1" fill="#a0a0a0"/><rect x="412" y="1" width="1" height="22" fill="#a0a0a0"/><rect x="412" y="22" width="25" height="1" fill="#ffffff"/><rect x="436" y="1" width="1" height="22" fill="#ffffff"/>
<rect x="440" y="1" width="25" height="22" fill="url(#chk)"/><rect x="440" y="1" width="25" height="1" fill="#a0a0a0"/><rect x="440" y="1" width="1" height="22" fill="#a0a0a0"/><rect x="440" y="22" width="25" height="1" fill="#ffffff"/><rect x="464" y="1" width="1" height="22" fill="#ffffff"/>
<rect x="600" y="1" width="25" height="22" fill="url(#chk)"/><rect x="600" y="1" width="25" height="1" fill="#a0a0a0"/><rect x="600" y="1" width="1" height="22" fill="#a0a0a0"/><rect x="600" y="22" width="25" height="1" fill="#ffffff"/><rect x="624" y="1" width="1" height="22" fill="#ffffff"/>
<rect x="1074" y="1" width="25" height="22" fill="url(#chk)"/><rect x="1074" y="1" width="25" height="1" fill="#a0a0a0"/><rect x="1074" y="1" width="1" height="22" fill="#a0a0a0"/><rect x="1074" y="22" width="25" height="1" fill="#ffffff"/><rect x="1098" y="1" width="1" height="22" fill="#ffffff"/>
</g>
<path d="M0 5.5 H5.5 L8.5 8.5 V14 H0 Z" fill="#ffffff" stroke="#a0a0a0" stroke-width="0.8"/>
<path d="M0 9 H5 M0 11 H5" stroke="#b0b0b0" stroke-width="0.8"/>
<path d="M4 11.5 H8 V15.3 H12 V19.3 H8 V23 H4 V19.3 H0 V15.3 H4 Z" fill="url(#gGreen)" stroke="#0d8a0d" stroke-width="0.9"/>
<text x="14.6" y="15.6" font-family="'Liberation Sans', 'Noto Sans CJK SC', sans-serif" font-size="12.2" fill="#000000" stroke="#000000" stroke-width="0.27" textLength="36.5" lengthAdjust="spacing">新订单</text>
<path d="M64 15.2 L71 21 L79.2 14.8 L78.6 13.6 L71 19 L64.4 14 Z" fill="#9a6a08"/>
<path d="M68.7 6 C70 7 77 12 79 14.2 L71 19.6 L63.2 14.6 C64.5 12 67 8 68.7 6 Z" fill="url(#gGold)" stroke="#b07c0a" stroke-width="0.8"/>
<path d="M68.9 7.4 L77.2 13.8" stroke="#fbe9a0" stroke-width="1" fill="none"/>
<path d="M93.2 6.2 L97 5.4 L104 5.8 V14.6 H93.2 Z" fill="#2f9bf5"/>
<path d="M93.2 6.2 L96.6 7 V15 H93.2 Z" fill="#0f7ee8"/>
<path d="M96.6 7 L104 5.8 V14.6 H96.6 Z" fill="#55b2fb"/>
<rect x="98.2" y="9" width="4.6" height="1.5" fill="#e6f4ff"/><rect x="98.2" y="11.4" width="3" height="1" fill="#2a86e0"/>
<path d="M93.8 20.4 a2.7 2.7 0 0 1 -0.2 -5.3 a3.3 3.3 0 0 1 6 -1.0 a2.8 2.8 0 0 1 4.3 1.7 a2.4 2.4 0 0 1 -0.2 4.6 Z" fill="#f6f9ff" stroke="#6b8fd0" stroke-width="0.9"/>
<path d="M93 18.2 C96 19.4 102 19.4 105.6 18" stroke="#c2d2ee" stroke-width="1.2" fill="none"/>
<path d="M127 12.7 L127 4.7 A8 8 0 0 1 127 20.7 Z" fill="#cfe6cc" opacity="0.6"/>
<path d="M127 12.7 L134.9 11.5 A8 8 0 0 1 127 20.7 Z" fill="#5fb45a" opacity="0.5"/>
<g fill="none" stroke-width="1.1"><path d="M127 4.7 A8 8 0 0 0 127 20.7" stroke="#9db8ea"/><path d="M127 7.3 A5.4 5.4 0 0 0 127 18.1" stroke="#6d90de"/><path d="M127 9.8 A2.9 2.9 0 0 0 127 15.6" stroke="#4a70d4"/><path d="M127 4.7 A8 8 0 0 1 127 20.7" stroke="#8db0c8"/><path d="M127 7.3 A5.4 5.4 0 0 1 134 12.7" stroke="#9cc8b0"/><path d="M127 9.8 A2.9 2.9 0 0 1 129.9 12.7" stroke="#7aa8c8"/></g>
<circle cx="126.9" cy="12.6" r="1.8" fill="#2a5ad0"/><path d="M127.4 13 V20.6" stroke="#22a022" stroke-width="1.5"/>
<path d="M146.6 12 L160.6 11.6 L155.4 20.6 L152.4 20.6 Z" fill="#f6d548" stroke="#c89a10" stroke-width="0.7"/>
<path d="M150 13.4 L158.5 13 L154.6 19.6 Z" fill="#fbe98a"/>
<ellipse cx="154.1" cy="10" rx="8" ry="2.7" fill="#4c9ad6" stroke="#2a78b4" stroke-width="0.6"/>
<path d="M150 9.6 C150 4.2 158.2 4.2 158.2 9.6 Z" fill="#6ab4e6" stroke="#2a78b4" stroke-width="0.6"/>
<path d="M151.4 7 C152.6 5.4 155 5.2 156.4 6.2" stroke="#c8e8fb" stroke-width="1" fill="none"/>
<circle cx="158.5" cy="16.8" r="4.1" fill="#e32412" stroke="#b01008" stroke-width="0.6"/><rect x="157" y="15.3" width="3" height="3" fill="#ffffff"/>
<text x="167.6" y="15.9" font-family="'Liberation Sans', 'Noto Sans CJK SC', sans-serif" font-size="11.8" fill="#000000" stroke="#000000" stroke-width="0.26" textLength="47" lengthAdjust="spacing">自动交易</text>
<path d="M240.5 7 V21 M238 18.5 H252" stroke="#505050" stroke-width="1" fill="none" shape-rendering="crispEdges"/><path d="M238.5 9.5 L240.5 6.5 L242.5 9.5 Z M249.5 16.5 L252.5 18.5 L249.5 20.5 Z" fill="#505050"/>
<path d="M246.5 8.5 V16.5 M246.5 9.5 H249 M244 15.5 H246.5" stroke="#1a8a1a" stroke-width="1.2" fill="none"/>
<path d="M268.5 7 V21 M266 18.5 H280" stroke="#505050" stroke-width="1" fill="none" shape-rendering="crispEdges"/><path d="M266.5 9.5 L268.5 6.5 L270.5 9.5 Z M277.5 16.5 L280.5 18.5 L277.5 20.5 Z" fill="#505050"/>
<path d="M274.5 5 V17" stroke="#108010" stroke-width="1.2"/><rect x="272.4" y="7.4" width="4.2" height="7.4" fill="#44e044" stroke="#108010" stroke-width="0.9"/>
<path d="M296.5 7 V21 M294 18.5 H308" stroke="#505050" stroke-width="1" fill="none" shape-rendering="crispEdges"/><path d="M294.5 9.5 L296.5 6.5 L298.5 9.5 Z M305.5 16.5 L308.5 18.5 L305.5 20.5 Z" fill="#505050"/>
<path d="M295 15.5 C298 13.5 299.5 10.2 301.5 10.4 C303.5 10.6 304.5 13.4 307 14.2" stroke="#2a9a2a" stroke-width="1.1" fill="none"/>
<path d="M335.8 14.8 L341.6 20.2" stroke="#c8a020" stroke-width="2.6" stroke-linecap="round"/><path d="M336.2 14.6 L341.6 19.6" stroke="#f0d860" stroke-width="1" stroke-linecap="round"/><circle cx="332" cy="11" r="5.3" fill="url(#gLens)" stroke="#3878d0" stroke-width="1.3"/><path d="M329 11 H335" stroke="#3a80b8" stroke-width="1.7"/><path d="M332 8 V14" stroke="#3a80b8" stroke-width="1.7"/>
<path d="M364.0 14.8 L369.8 20.2" stroke="#c8a020" stroke-width="2.6" stroke-linecap="round"/><path d="M364.4 14.6 L369.8 19.6" stroke="#f0d860" stroke-width="1" stroke-linecap="round"/><circle cx="360.2" cy="11" r="5.3" fill="url(#gLens)" stroke="#3878d0" stroke-width="1.3"/><path d="M357.2 11 H363.2" stroke="#3a80b8" stroke-width="1.7"/>
<rect x="382.2" y="5.1" width="7.8" height="7.8" fill="#4aa828"/><rect x="382.2" y="5.1" width="7.8" height="2.4" fill="#2c8c10"/><rect x="383.5" y="8.5" width="5.2" height="3.4" fill="#ffffff" opacity="0.92"/><rect x="384.4" y="9.7" width="3.4" height="0.9" fill="#4aa828" opacity="0.7"/>
<rect x="390.2" y="5.1" width="7.8" height="7.8" fill="#3a70e0"/><rect x="390.2" y="5.1" width="7.8" height="2.4" fill="#1a48c0"/><rect x="391.5" y="8.5" width="5.2" height="3.4" fill="#ffffff" opacity="0.92"/><rect x="392.4" y="9.7" width="3.4" height="0.9" fill="#3a70e0" opacity="0.7"/>
<rect x="382.2" y="13" width="7.8" height="7.8" fill="#3a70e0"/><rect x="382.2" y="13" width="7.8" height="2.4" fill="#1a48c0"/><rect x="383.5" y="16.4" width="5.2" height="3.4" fill="#ffffff" opacity="0.92"/><rect x="384.4" y="17.6" width="3.4" height="0.9" fill="#3a70e0" opacity="0.7"/>
<rect x="390.2" y="13" width="7.8" height="7.8" fill="#4aa828"/><rect x="390.2" y="13" width="7.8" height="2.4" fill="#2c8c10"/><rect x="391.5" y="16.4" width="5.2" height="3.4" fill="#ffffff" opacity="0.92"/><rect x="392.4" y="17.6" width="3.4" height="0.9" fill="#4aa828" opacity="0.7"/>
<path d="M420.5 7 V21 M418 18.5 H432" stroke="#505050" stroke-width="1" fill="none" shape-rendering="crispEdges"/><path d="M418.5 9.5 L420.5 6.5 L422.5 9.5 Z M429.5 16.5 L432.5 18.5 L429.5 20.5 Z" fill="#505050"/>
<path d="M425.3 9 L429.2 12.5 L425.3 16 Z" fill="#60e060" stroke="#149414" stroke-width="0.9"/>
<path d="M448.5 7 V21 M446 18.5 H460" stroke="#505050" stroke-width="1" fill="none" shape-rendering="crispEdges"/><path d="M446.5 9.5 L448.5 6.5 L450.5 9.5 Z M457.5 16.5 L460.5 18.5 L457.5 20.5 Z" fill="#505050"/>
<path d="M454.5 7 V16.8" stroke="#1a70b0" stroke-width="1.2"/>
<path d="M455.6 12.5 L458.6 10.3 L458 12 H460.4 V13 H458 L458.6 14.7 Z" fill="#e04810"/>
<path d="M479.5 5.5 H487.8 L491 8.6 V18.6 H479.5 Z" fill="#ffffff" stroke="#909090" stroke-width="0.8"/>
<path d="M483.6 8.2 C481.8 8.4 482.6 11.6 481.6 12 C482.6 12.4 481.8 15.6 483.6 15.8" stroke="#6a5a30" stroke-width="0.8" fill="none"/>
<path d="M487 11.4 H491 V14.9 H494.8 V18.9 H491 V22.5 H487 V18.9 H483.3 V14.9 H487 Z" fill="url(#gGreen)" stroke="#0d8a0d" stroke-width="0.9"/>
<path d="M501.2 12 H506.2 L503.7 15 Z" fill="#000"/>
<circle cx="525" cy="12.8" r="7" fill="#f4f4f4" stroke="url(#gBlue)" stroke-width="2.2"/>
<circle cx="525" cy="12.8" r="8" fill="none" stroke="#1450a8" stroke-width="0.5"/>
<path d="M524.7 8.5 V13 H528.2" stroke="#303030" stroke-width="1.2" fill="none"/>
<path d="M540.2 12 H545.2 L542.7 15 Z" fill="#000"/>
<rect x="556.6" y="6.4" width="15.2" height="13.2" fill="#ffffff" stroke="#3a70c0" stroke-width="1"/>
<rect x="556.6" y="6.4" width="15.2" height="2.2" fill="#3a80d8"/><path d="M557 13.9 H571.5" stroke="#3a70c0" stroke-width="1"/>
<path d="M558.6 12 L561 11.6 L563 10.6 L565 11.6 L567.5 11 L570 10.2" stroke="#b02010" stroke-width="1.1" fill="none"/>
<path d="M558.6 17.4 L561 17 L563 16 L565 17.2 L567.5 15.6 L570 17.2" stroke="#1a9a2a" stroke-width="1.1" fill="none"/>
<path d="M579.2 12 H584.2 L581.7 15 Z" fill="#000"/>
<path d="M608.2 6 V17.4 L610.9 14.9 L613.3 20.3 L615 19.5 L612.7 14.2 L616.3 13.8 Z" fill="#505050"/>
<path d="M640.5 5.5 V21 M633 13.5 H648" stroke="#505050" stroke-width="1" shape-rendering="crispEdges"/>
<path d="M674.5 7 V20 M697 13.5 H709" stroke="#505050" stroke-width="1" shape-rendering="crispEdges"/>
<path d="M724.8 20 L737 8.2" stroke="#505050" stroke-width="1.1"/>
<g stroke="#505050" stroke-width="0.9" fill="none"><path d="M750.5 14.5 L762.5 6.5 M752.5 19.5 L764.5 11.5"/><path d="M753.5 12.5 L754.5 18.3 M756.5 10.5 L757.5 16.3 M759.5 8.5 L760.5 14.3 M762 6.8 L763 12.6" stroke-width="0.8"/></g>
<text x="761.6" y="21.8" font-family="Liberation Sans, sans-serif" font-size="6.5" font-weight="bold" fill="#404040">E</text>
<g stroke="#606060" stroke-width="1" stroke-dasharray="1 1" shape-rendering="crispEdges"><path d="M780 6.5 H793 M780 9.5 H793 M780 13.5 H793 M780 17.5 H789"/></g>
<text x="789.6" y="21.8" font-family="Liberation Sans, sans-serif" font-size="6.5" font-weight="bold" fill="#404040">F</text>
<text x="810.4" y="17.8" font-family="Liberation Sans, sans-serif" font-size="12.4" font-weight="bold" fill="#606060">A</text>
<rect x="837.5" y="7.5" width="11" height="12" fill="none" stroke="#505050" stroke-width="1" stroke-dasharray="1 1" shape-rendering="crispEdges"/>
<text x="839.4" y="18" font-family="Liberation Sans, sans-serif" font-size="10.5" font-weight="bold" fill="#505050">T</text>
<path d="M867.6 6.8 L870.8 10 H868.8 V11.4 H866.4 V10 H864.4 Z" fill="#404040"/>
<path d="M874.8 19.6 L871.6 16.4 H873.6 V15 H876 V16.4 H878 Z" fill="#404040"/>
<path d="M866.8 14.6 L868.6 16.4 L874 10.4" stroke="#404040" stroke-width="1.2" fill="none"/>
<path d="M885 12 H890 L887.5 15 Z" fill="#000"/>
<text x="917.8" y="17.1" text-anchor="middle" font-family="Liberation Sans, sans-serif" font-size="9.6" fill="#484848">M1</text>
<text x="945.8" y="17.1" text-anchor="middle" font-family="Liberation Sans, sans-serif" font-size="9.6" fill="#484848">M5</text>
<text x="974.3" y="17.1" text-anchor="middle" font-family="Liberation Sans, sans-serif" font-size="9.6" fill="#484848">M15</text>
<text x="1002.5" y="17.1" text-anchor="middle" font-family="Liberation Sans, sans-serif" font-size="9.6" fill="#484848">M30</text>
<text x="1030.2" y="17.1" text-anchor="middle" font-family="Liberation Sans, sans-serif" font-size="9.6" fill="#484848">H1</text>
<text x="1057.7" y="17.1" text-anchor="middle" font-family="Liberation Sans, sans-serif" font-size="9.6" fill="#484848">H4</text>
<text x="1086.3" y="17.1" text-anchor="middle" font-family="Liberation Sans, sans-serif" font-size="9.6" fill="#484848">D1</text>
<text x="1115" y="17.1" text-anchor="middle" font-family="Liberation Sans, sans-serif" font-size="9.6" fill="#484848">W1</text>
<text x="1142.2" y="17.1" text-anchor="middle" font-family="Liberation Sans, sans-serif" font-size="9.6" fill="#484848">MN</text>
<circle cx="1627.5" cy="10.5" r="3.6" fill="#f8fbff" stroke="#2858c8" stroke-width="1.5"/><path d="M1624.8 13.4 L1620 18.4" stroke="#2858c8" stroke-width="2" stroke-linecap="round"/>
<path d="M1655 6.5 h8 a3 3 0 0 1 3 3 v1.5 a3 3 0 0 1 -3 3 h-0.5 l1 2.5 l-3.5 -2.5 h-5 a3 3 0 0 1 -3 -3 v-1.5 a3 3 0 0 1 3 -3 Z" fill="#f4f4f4" stroke="#909090" stroke-width="0.9"/>
<path d="M1649 10.5 h6 a2.6 2.6 0 0 1 2.6 2.6 v1.2 a2.6 2.6 0 0 1 -2.6 2.6 h-3.6 l-3 2.4 l0.8 -2.4 h-0.2 a2.6 2.6 0 0 1 -2.6 -2.6 v-1.2 a2.6 2.6 0 0 1 2.6 -2.6 Z" fill="#fafafa" stroke="#808080" stroke-width="0.9"/>
</svg>
</body></html>
